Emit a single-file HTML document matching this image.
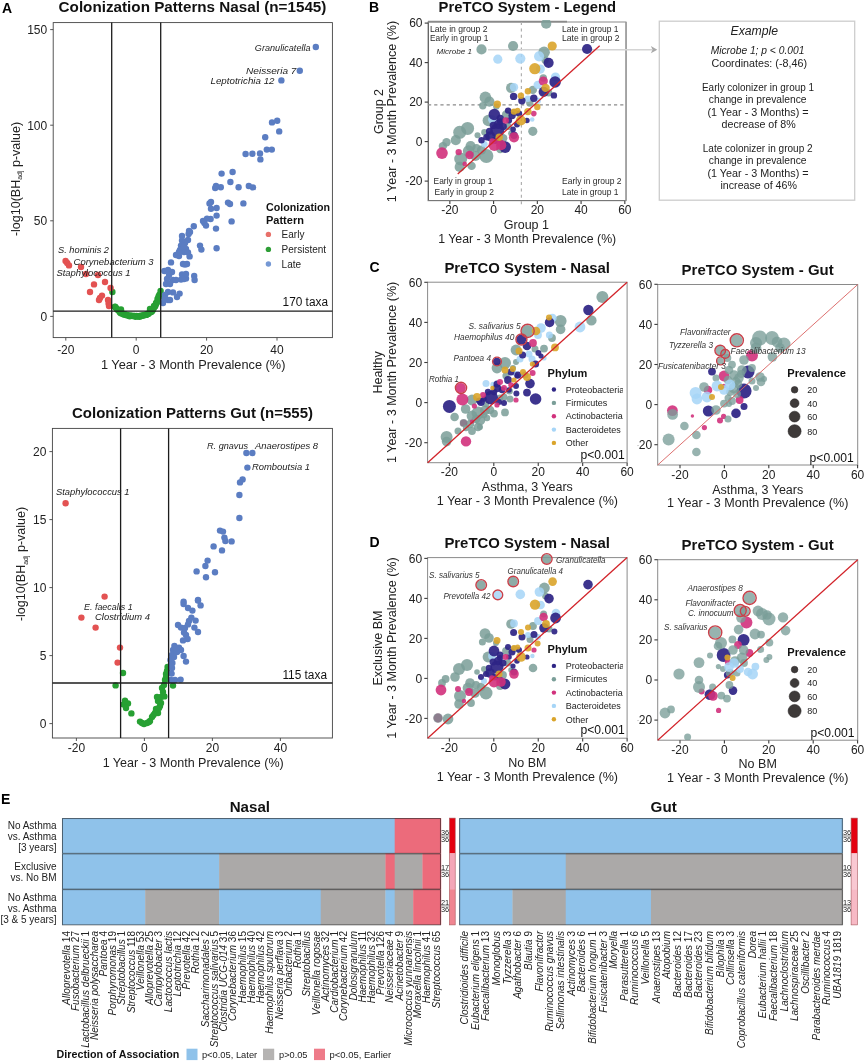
<!DOCTYPE html>
<html lang="en"><head><meta charset="utf-8"><title>Figure</title>
<style>
html,body{margin:0;padding:0;background:#fff;}
svg{display:block;font-family:"Liberation Sans", Arial, Helvetica, sans-serif;}
text{font-kerning:normal;}
</style></head><body>
<svg width="865" height="1062" viewBox="0 0 865 1062">
<rect x="0" y="0" width="865" height="1062" fill="#ffffff"/>
<defs>
<clipPath id="clipB"><rect x="428" y="20" width="198" height="181"/></clipPath>
<clipPath id="clipCN"><rect x="427.6" y="278" width="199.4" height="184.7"/></clipPath>
<clipPath id="clipCG"><rect x="657.4" y="280" width="200.2" height="185"/></clipPath>
<clipPath id="clipDN"><rect x="427.6" y="552" width="199.4" height="186.2"/></clipPath>
<clipPath id="clipDG"><rect x="657.4" y="555" width="200.2" height="185.2"/></clipPath>
<clipPath id="clipCNl"><rect x="540" y="360" width="83" height="100"/></clipPath>
<clipPath id="clipDNl"><rect x="540" y="636" width="83" height="100"/></clipPath>
</defs>
<text x="2.00" y="12.60" font-size="14" font-weight="bold" fill="#000">A</text>
<text x="58.60" y="12.30" font-size="14.8" font-weight="bold" textLength="267.80" lengthAdjust="spacingAndGlyphs" fill="#111">Colonization Patterns Nasal (n=1545)</text>
<rect x="53.20" y="22.60" width="279.20" height="315.00" fill="#fff" stroke="#444" stroke-width="0.9" />
<line x1="50.20" y1="316.40" x2="53.20" y2="316.40" stroke="#444" stroke-width="0.9" />
<text x="47.20" y="320.70" font-size="12" text-anchor="end" fill="#222">0</text>
<line x1="50.20" y1="220.80" x2="53.20" y2="220.80" stroke="#444" stroke-width="0.9" />
<text x="47.20" y="225.10" font-size="12" text-anchor="end" fill="#222">50</text>
<line x1="50.20" y1="125.20" x2="53.20" y2="125.20" stroke="#444" stroke-width="0.9" />
<text x="47.20" y="129.50" font-size="12" text-anchor="end" fill="#222">100</text>
<line x1="50.20" y1="29.60" x2="53.20" y2="29.60" stroke="#444" stroke-width="0.9" />
<text x="47.20" y="33.90" font-size="12" text-anchor="end" fill="#222">150</text>
<line x1="65.80" y1="337.60" x2="65.80" y2="340.60" stroke="#444" stroke-width="0.9" />
<text x="65.80" y="354.00" font-size="12" text-anchor="middle" fill="#222">-20</text>
<line x1="136.20" y1="337.60" x2="136.20" y2="340.60" stroke="#444" stroke-width="0.9" />
<text x="136.20" y="354.00" font-size="12" text-anchor="middle" fill="#222">0</text>
<line x1="206.60" y1="337.60" x2="206.60" y2="340.60" stroke="#444" stroke-width="0.9" />
<text x="206.60" y="354.00" font-size="12" text-anchor="middle" fill="#222">20</text>
<line x1="277.00" y1="337.60" x2="277.00" y2="340.60" stroke="#444" stroke-width="0.9" />
<text x="277.00" y="354.00" font-size="12" text-anchor="middle" fill="#222">40</text>
<text x="193.20" y="368.80" font-size="12.7" text-anchor="middle" textLength="184.50" lengthAdjust="spacingAndGlyphs" fill="#222">1 Year - 3 Month Prevalence (%)</text>
<text x="19.70" y="179.00" font-size="12.5" text-anchor="middle" transform="rotate(-90 19.70 179.00)" fill="#222">-log10(BH<tspan font-size="7" dy="2.5">adj</tspan><tspan dy="-2.5"> p-value)</tspan></text>
<circle cx="112.4" cy="292.0" r="3.2" fill="#27A033"/>
<circle cx="160.6" cy="291.0" r="3.2" fill="#27A033"/>
<circle cx="159.4" cy="294.6" r="3.2" fill="#27A033"/>
<circle cx="115.0" cy="306.6" r="3.2" fill="#27A033"/>
<circle cx="121.0" cy="309.4" r="3.2" fill="#27A033"/>
<circle cx="156.0" cy="303.0" r="3.2" fill="#27A033"/>
<circle cx="154.0" cy="306.0" r="3.2" fill="#27A033"/>
<circle cx="150.0" cy="309.0" r="3.2" fill="#27A033"/>
<circle cx="157.5" cy="299.0" r="3.2" fill="#27A033"/>
<circle cx="158.5" cy="296.5" r="3.2" fill="#27A033"/>
<circle cx="115.1" cy="306.9" r="3.2" fill="#27A033"/>
<circle cx="116.1" cy="307.9" r="3.2" fill="#27A033"/>
<circle cx="117.0" cy="309.3" r="3.2" fill="#27A033"/>
<circle cx="118.0" cy="310.1" r="3.2" fill="#27A033"/>
<circle cx="119.0" cy="311.0" r="3.2" fill="#27A033"/>
<circle cx="120.0" cy="312.5" r="3.2" fill="#27A033"/>
<circle cx="120.9" cy="313.3" r="3.2" fill="#27A033"/>
<circle cx="121.9" cy="313.0" r="3.2" fill="#27A033"/>
<circle cx="122.9" cy="314.1" r="3.2" fill="#27A033"/>
<circle cx="123.9" cy="314.6" r="3.2" fill="#27A033"/>
<circle cx="124.9" cy="314.1" r="3.2" fill="#27A033"/>
<circle cx="125.8" cy="315.1" r="3.2" fill="#27A033"/>
<circle cx="126.8" cy="314.9" r="3.2" fill="#27A033"/>
<circle cx="127.8" cy="315.5" r="3.2" fill="#27A033"/>
<circle cx="128.8" cy="315.5" r="3.2" fill="#27A033"/>
<circle cx="129.7" cy="316.2" r="3.2" fill="#27A033"/>
<circle cx="130.7" cy="315.8" r="3.2" fill="#27A033"/>
<circle cx="131.7" cy="315.6" r="3.2" fill="#27A033"/>
<circle cx="132.7" cy="316.1" r="3.2" fill="#27A033"/>
<circle cx="133.7" cy="315.9" r="3.2" fill="#27A033"/>
<circle cx="134.6" cy="316.0" r="3.2" fill="#27A033"/>
<circle cx="135.6" cy="316.7" r="3.2" fill="#27A033"/>
<circle cx="136.6" cy="315.9" r="3.2" fill="#27A033"/>
<circle cx="137.6" cy="316.1" r="3.2" fill="#27A033"/>
<circle cx="138.5" cy="316.4" r="3.2" fill="#27A033"/>
<circle cx="139.5" cy="316.7" r="3.2" fill="#27A033"/>
<circle cx="140.5" cy="315.6" r="3.2" fill="#27A033"/>
<circle cx="141.5" cy="316.0" r="3.2" fill="#27A033"/>
<circle cx="142.5" cy="315.6" r="3.2" fill="#27A033"/>
<circle cx="143.4" cy="315.2" r="3.2" fill="#27A033"/>
<circle cx="144.4" cy="315.2" r="3.2" fill="#27A033"/>
<circle cx="145.4" cy="314.7" r="3.2" fill="#27A033"/>
<circle cx="146.4" cy="314.9" r="3.2" fill="#27A033"/>
<circle cx="147.3" cy="314.0" r="3.2" fill="#27A033"/>
<circle cx="148.3" cy="313.9" r="3.2" fill="#27A033"/>
<circle cx="149.3" cy="312.7" r="3.2" fill="#27A033"/>
<circle cx="150.3" cy="312.0" r="3.2" fill="#27A033"/>
<circle cx="151.3" cy="312.0" r="3.2" fill="#27A033"/>
<circle cx="152.2" cy="310.9" r="3.2" fill="#27A033"/>
<circle cx="153.2" cy="309.6" r="3.2" fill="#27A033"/>
<circle cx="154.2" cy="307.3" r="3.2" fill="#27A033"/>
<circle cx="155.2" cy="306.2" r="3.2" fill="#27A033"/>
<circle cx="156.1" cy="304.1" r="3.2" fill="#27A033"/>
<circle cx="157.1" cy="302.3" r="3.2" fill="#27A033"/>
<circle cx="158.1" cy="299.6" r="3.2" fill="#27A033"/>
<circle cx="159.1" cy="296.9" r="3.2" fill="#27A033"/>
<circle cx="65.6" cy="261.0" r="3.2" fill="#E35252"/>
<circle cx="67.2" cy="263.0" r="3.2" fill="#E35252"/>
<circle cx="69.0" cy="265.4" r="3.2" fill="#E35252"/>
<circle cx="81.0" cy="267.0" r="3.2" fill="#E35252"/>
<circle cx="86.0" cy="274.0" r="3.2" fill="#E35252"/>
<circle cx="98.0" cy="275.0" r="3.2" fill="#E35252"/>
<circle cx="105.0" cy="282.0" r="3.2" fill="#E35252"/>
<circle cx="94.0" cy="284.4" r="3.2" fill="#E35252"/>
<circle cx="90.0" cy="292.0" r="3.2" fill="#E35252"/>
<circle cx="110.6" cy="288.0" r="3.2" fill="#E35252"/>
<circle cx="102.0" cy="295.6" r="3.2" fill="#E35252"/>
<circle cx="100.0" cy="298.0" r="3.2" fill="#E35252"/>
<circle cx="99.0" cy="300.0" r="3.2" fill="#E35252"/>
<circle cx="108.0" cy="300.0" r="3.2" fill="#E35252"/>
<circle cx="108.6" cy="303.6" r="3.2" fill="#E35252"/>
<circle cx="109.0" cy="306.0" r="3.2" fill="#E35252"/>
<circle cx="315.8" cy="47.0" r="3.2" fill="#5B7DC2"/>
<circle cx="299.8" cy="70.8" r="3.2" fill="#5B7DC2"/>
<circle cx="281.4" cy="80.4" r="3.2" fill="#5B7DC2"/>
<circle cx="277.2" cy="120.8" r="3.2" fill="#5B7DC2"/>
<circle cx="272.0" cy="122.4" r="3.2" fill="#5B7DC2"/>
<circle cx="279.2" cy="131.4" r="3.2" fill="#5B7DC2"/>
<circle cx="265.2" cy="137.2" r="3.2" fill="#5B7DC2"/>
<circle cx="271.8" cy="149.6" r="3.2" fill="#5B7DC2"/>
<circle cx="266.8" cy="149.6" r="3.2" fill="#5B7DC2"/>
<circle cx="260.0" cy="153.4" r="3.2" fill="#5B7DC2"/>
<circle cx="252.4" cy="153.8" r="3.2" fill="#5B7DC2"/>
<circle cx="245.6" cy="154.0" r="3.2" fill="#5B7DC2"/>
<circle cx="260.4" cy="159.4" r="3.2" fill="#5B7DC2"/>
<circle cx="232.6" cy="172.0" r="3.2" fill="#5B7DC2"/>
<circle cx="221.6" cy="173.6" r="3.2" fill="#5B7DC2"/>
<circle cx="230.4" cy="182.0" r="3.2" fill="#5B7DC2"/>
<circle cx="220.8" cy="187.2" r="3.2" fill="#5B7DC2"/>
<circle cx="215.2" cy="188.0" r="3.2" fill="#5B7DC2"/>
<circle cx="216.0" cy="186.0" r="3.2" fill="#5B7DC2"/>
<circle cx="238.6" cy="187.2" r="3.2" fill="#5B7DC2"/>
<circle cx="248.8" cy="186.0" r="3.2" fill="#5B7DC2"/>
<circle cx="253.0" cy="187.4" r="3.2" fill="#5B7DC2"/>
<circle cx="211.0" cy="202.0" r="3.2" fill="#5B7DC2"/>
<circle cx="209.5" cy="203.5" r="3.2" fill="#5B7DC2"/>
<circle cx="228.0" cy="202.6" r="3.2" fill="#5B7DC2"/>
<circle cx="230.0" cy="204.0" r="3.2" fill="#5B7DC2"/>
<circle cx="243.4" cy="203.4" r="3.2" fill="#5B7DC2"/>
<circle cx="216.6" cy="208.0" r="3.2" fill="#5B7DC2"/>
<circle cx="211.0" cy="208.8" r="3.2" fill="#5B7DC2"/>
<circle cx="216.6" cy="215.6" r="3.2" fill="#5B7DC2"/>
<circle cx="231.6" cy="221.4" r="3.2" fill="#5B7DC2"/>
<circle cx="210.6" cy="219.0" r="3.2" fill="#5B7DC2"/>
<circle cx="207.0" cy="218.6" r="3.2" fill="#5B7DC2"/>
<circle cx="203.0" cy="221.0" r="3.2" fill="#5B7DC2"/>
<circle cx="204.4" cy="223.0" r="3.2" fill="#5B7DC2"/>
<circle cx="206.0" cy="225.6" r="3.2" fill="#5B7DC2"/>
<circle cx="216.0" cy="228.6" r="3.2" fill="#5B7DC2"/>
<circle cx="193.8" cy="226.2" r="3.2" fill="#5B7DC2"/>
<circle cx="189.0" cy="231.0" r="3.2" fill="#5B7DC2"/>
<circle cx="188.6" cy="234.0" r="3.2" fill="#5B7DC2"/>
<circle cx="188.0" cy="240.0" r="3.2" fill="#5B7DC2"/>
<circle cx="182.0" cy="240.4" r="3.2" fill="#5B7DC2"/>
<circle cx="185.0" cy="243.0" r="3.2" fill="#5B7DC2"/>
<circle cx="181.0" cy="245.6" r="3.2" fill="#5B7DC2"/>
<circle cx="183.0" cy="248.0" r="3.2" fill="#5B7DC2"/>
<circle cx="186.0" cy="249.0" r="3.2" fill="#5B7DC2"/>
<circle cx="200.0" cy="245.6" r="3.2" fill="#5B7DC2"/>
<circle cx="201.4" cy="249.6" r="3.2" fill="#5B7DC2"/>
<circle cx="216.6" cy="248.2" r="3.2" fill="#5B7DC2"/>
<circle cx="180.0" cy="250.0" r="3.2" fill="#5B7DC2"/>
<circle cx="184.0" cy="252.0" r="3.2" fill="#5B7DC2"/>
<circle cx="188.0" cy="252.4" r="3.2" fill="#5B7DC2"/>
<circle cx="176.0" cy="255.0" r="3.2" fill="#5B7DC2"/>
<circle cx="179.0" cy="256.0" r="3.2" fill="#5B7DC2"/>
<circle cx="189.6" cy="256.4" r="3.2" fill="#5B7DC2"/>
<circle cx="171.0" cy="262.4" r="3.2" fill="#5B7DC2"/>
<circle cx="183.0" cy="264.0" r="3.2" fill="#5B7DC2"/>
<circle cx="187.0" cy="264.0" r="3.2" fill="#5B7DC2"/>
<circle cx="185.0" cy="264.5" r="3.2" fill="#5B7DC2"/>
<circle cx="172.0" cy="272.0" r="3.2" fill="#5B7DC2"/>
<circle cx="182.0" cy="274.4" r="3.2" fill="#5B7DC2"/>
<circle cx="194.2" cy="276.0" r="3.2" fill="#5B7DC2"/>
<circle cx="173.0" cy="280.0" r="3.2" fill="#5B7DC2"/>
<circle cx="181.0" cy="279.6" r="3.2" fill="#5B7DC2"/>
<circle cx="186.0" cy="278.4" r="3.2" fill="#5B7DC2"/>
<circle cx="194.6" cy="280.0" r="3.2" fill="#5B7DC2"/>
<circle cx="184.0" cy="279.0" r="3.2" fill="#5B7DC2"/>
<circle cx="173.0" cy="292.4" r="3.2" fill="#5B7DC2"/>
<circle cx="179.6" cy="293.6" r="3.2" fill="#5B7DC2"/>
<circle cx="177.0" cy="297.0" r="3.2" fill="#5B7DC2"/>
<circle cx="170.0" cy="300.0" r="3.2" fill="#5B7DC2"/>
<circle cx="164.4" cy="271.0" r="3.2" fill="#5B7DC2"/>
<circle cx="168.0" cy="270.0" r="3.2" fill="#5B7DC2"/>
<circle cx="169.0" cy="275.0" r="3.2" fill="#5B7DC2"/>
<circle cx="167.0" cy="279.0" r="3.2" fill="#5B7DC2"/>
<circle cx="168.0" cy="292.0" r="3.2" fill="#5B7DC2"/>
<circle cx="165.0" cy="295.0" r="3.2" fill="#5B7DC2"/>
<circle cx="163.0" cy="303.0" r="3.2" fill="#5B7DC2"/>
<circle cx="168.0" cy="300.0" r="3.2" fill="#5B7DC2"/>
<circle cx="186.0" cy="274.0" r="3.2" fill="#5B7DC2"/>
<circle cx="190.0" cy="232.0" r="3.2" fill="#5B7DC2"/>
<circle cx="182.0" cy="236.0" r="3.2" fill="#5B7DC2"/>
<circle cx="184.0" cy="246.0" r="3.2" fill="#5B7DC2"/>
<circle cx="179.0" cy="252.0" r="3.2" fill="#5B7DC2"/>
<circle cx="166.0" cy="284.0" r="3.2" fill="#5B7DC2"/>
<circle cx="170.0" cy="284.0" r="3.2" fill="#5B7DC2"/>
<circle cx="176.0" cy="280.0" r="3.2" fill="#5B7DC2"/>
<circle cx="164.5" cy="299.0" r="3.2" fill="#5B7DC2"/>
<line x1="111.70" y1="22.60" x2="111.70" y2="337.60" stroke="#1c1c1c" stroke-width="1.3" />
<line x1="160.70" y1="22.60" x2="160.70" y2="337.60" stroke="#1c1c1c" stroke-width="1.3" />
<line x1="53.20" y1="311.20" x2="332.40" y2="311.20" stroke="#1c1c1c" stroke-width="1.3" />
<text x="254.80" y="51.00" font-size="9" font-style="italic" textLength="55.80" lengthAdjust="spacingAndGlyphs" fill="#222">Granulicatella</text>
<text x="246.00" y="74.00" font-size="9" font-style="italic" textLength="50.50" lengthAdjust="spacingAndGlyphs" fill="#222">Neisseria  7</text>
<text x="210.50" y="83.60" font-size="9" font-style="italic" textLength="64.00" lengthAdjust="spacingAndGlyphs" fill="#222">Leptotrichia  12</text>
<text x="58.00" y="253.00" font-size="9" font-style="italic" textLength="51.00" lengthAdjust="spacingAndGlyphs" fill="#222">S. hominis 2</text>
<text x="73.60" y="265.00" font-size="9" font-style="italic" textLength="80.00" lengthAdjust="spacingAndGlyphs" fill="#222">Corynebacterium  3</text>
<text x="56.40" y="276.00" font-size="9" font-style="italic" textLength="74.20" lengthAdjust="spacingAndGlyphs" fill="#222">Staphylococcus  1</text>
<text x="282.60" y="306.00" font-size="12" textLength="45.40" lengthAdjust="spacingAndGlyphs" fill="#111">170 taxa</text>
<text x="266.00" y="210.60" font-size="11" font-weight="bold" textLength="64.00" lengthAdjust="spacingAndGlyphs" fill="#111">Colonization</text>
<text x="266.00" y="224.20" font-size="11" font-weight="bold" fill="#111">Pattern</text>
<circle cx="268.4" cy="234.4" r="2.7" fill="#E8706A"/>
<text x="281.60" y="238.00" font-size="10" fill="#222">Early</text>
<circle cx="268.4" cy="249.4" r="2.7" fill="#2E9E36"/>
<text x="281.60" y="253.00" font-size="10" fill="#222">Persistent</text>
<circle cx="268.4" cy="264.0" r="2.7" fill="#7598D4"/>
<text x="281.60" y="267.60" font-size="10" fill="#222">Late</text>
<text x="72.00" y="418.00" font-size="14.8" font-weight="bold" textLength="241.00" lengthAdjust="spacingAndGlyphs" fill="#111">Colonization Patterns Gut (n=555)</text>
<rect x="52.40" y="428.40" width="280.00" height="309.60" fill="#fff" stroke="#444" stroke-width="0.9" />
<line x1="49.40" y1="723.60" x2="52.40" y2="723.60" stroke="#444" stroke-width="0.9" />
<text x="46.40" y="727.90" font-size="12" text-anchor="end" fill="#222">0</text>
<line x1="49.40" y1="655.60" x2="52.40" y2="655.60" stroke="#444" stroke-width="0.9" />
<text x="46.40" y="659.90" font-size="12" text-anchor="end" fill="#222">5</text>
<line x1="49.40" y1="587.60" x2="52.40" y2="587.60" stroke="#444" stroke-width="0.9" />
<text x="46.40" y="591.90" font-size="12" text-anchor="end" fill="#222">10</text>
<line x1="49.40" y1="519.60" x2="52.40" y2="519.60" stroke="#444" stroke-width="0.9" />
<text x="46.40" y="523.90" font-size="12" text-anchor="end" fill="#222">15</text>
<line x1="49.40" y1="451.60" x2="52.40" y2="451.60" stroke="#444" stroke-width="0.9" />
<text x="46.40" y="455.90" font-size="12" text-anchor="end" fill="#222">20</text>
<line x1="76.40" y1="738.00" x2="76.40" y2="741.00" stroke="#444" stroke-width="0.9" />
<text x="76.40" y="752.40" font-size="12" text-anchor="middle" fill="#222">-20</text>
<line x1="144.40" y1="738.00" x2="144.40" y2="741.00" stroke="#444" stroke-width="0.9" />
<text x="144.40" y="752.40" font-size="12" text-anchor="middle" fill="#222">0</text>
<line x1="212.40" y1="738.00" x2="212.40" y2="741.00" stroke="#444" stroke-width="0.9" />
<text x="212.40" y="752.40" font-size="12" text-anchor="middle" fill="#222">20</text>
<line x1="280.40" y1="738.00" x2="280.40" y2="741.00" stroke="#444" stroke-width="0.9" />
<text x="280.40" y="752.40" font-size="12" text-anchor="middle" fill="#222">40</text>
<text x="193.20" y="767.40" font-size="12.5" text-anchor="middle" textLength="181.10" lengthAdjust="spacingAndGlyphs" fill="#222">1 Year - 3 Month Prevalence (%)</text>
<text x="25.40" y="564.00" font-size="12.5" text-anchor="middle" transform="rotate(-90 25.40 564.00)" fill="#222">-log10(BH<tspan font-size="7" dy="2.5">adj</tspan><tspan dy="-2.5"> p-value)</tspan></text>
<circle cx="123.0" cy="673.0" r="3.2" fill="#27A033"/>
<circle cx="115.6" cy="685.4" r="3.2" fill="#27A033"/>
<circle cx="125.0" cy="700.6" r="3.2" fill="#27A033"/>
<circle cx="128.0" cy="703.4" r="3.2" fill="#27A033"/>
<circle cx="123.6" cy="704.4" r="3.2" fill="#27A033"/>
<circle cx="126.0" cy="708.0" r="3.2" fill="#27A033"/>
<circle cx="131.4" cy="713.4" r="3.2" fill="#27A033"/>
<circle cx="140.0" cy="721.6" r="3.2" fill="#27A033"/>
<circle cx="142.0" cy="723.0" r="3.2" fill="#27A033"/>
<circle cx="144.0" cy="724.0" r="3.2" fill="#27A033"/>
<circle cx="147.0" cy="723.0" r="3.2" fill="#27A033"/>
<circle cx="150.0" cy="721.0" r="3.2" fill="#27A033"/>
<circle cx="152.0" cy="717.0" r="3.2" fill="#27A033"/>
<circle cx="155.0" cy="713.0" r="3.2" fill="#27A033"/>
<circle cx="158.0" cy="713.0" r="3.2" fill="#27A033"/>
<circle cx="156.0" cy="709.0" r="3.2" fill="#27A033"/>
<circle cx="160.0" cy="706.0" r="3.2" fill="#27A033"/>
<circle cx="161.0" cy="703.0" r="3.2" fill="#27A033"/>
<circle cx="158.0" cy="701.0" r="3.2" fill="#27A033"/>
<circle cx="157.0" cy="697.0" r="3.2" fill="#27A033"/>
<circle cx="161.0" cy="697.0" r="3.2" fill="#27A033"/>
<circle cx="164.4" cy="696.4" r="3.2" fill="#27A033"/>
<circle cx="162.0" cy="688.0" r="3.2" fill="#27A033"/>
<circle cx="164.0" cy="685.0" r="3.2" fill="#27A033"/>
<circle cx="165.0" cy="680.0" r="3.2" fill="#27A033"/>
<circle cx="166.0" cy="674.0" r="3.2" fill="#27A033"/>
<circle cx="167.6" cy="667.0" r="3.2" fill="#27A033"/>
<circle cx="173.0" cy="685.6" r="3.2" fill="#27A033"/>
<circle cx="163.0" cy="692.0" r="3.2" fill="#27A033"/>
<circle cx="153.5" cy="715.0" r="3.2" fill="#27A033"/>
<circle cx="149.0" cy="722.0" r="3.2" fill="#27A033"/>
<circle cx="159.0" cy="708.0" r="3.2" fill="#27A033"/>
<circle cx="166.0" cy="677.5" r="3.2" fill="#27A033"/>
<circle cx="167.0" cy="671.0" r="3.2" fill="#27A033"/>
<circle cx="65.6" cy="503.2" r="3.2" fill="#E35252"/>
<circle cx="104.6" cy="596.6" r="3.2" fill="#E35252"/>
<circle cx="81.4" cy="617.6" r="3.2" fill="#E35252"/>
<circle cx="95.6" cy="627.6" r="3.2" fill="#E35252"/>
<circle cx="120.0" cy="647.6" r="3.2" fill="#E35252"/>
<circle cx="117.6" cy="662.6" r="3.2" fill="#E35252"/>
<circle cx="183.6" cy="604.0" r="3.2" fill="#5B7DC2"/>
<circle cx="198.0" cy="600.6" r="3.2" fill="#5B7DC2"/>
<circle cx="200.6" cy="605.4" r="3.2" fill="#5B7DC2"/>
<circle cx="188.0" cy="608.0" r="3.2" fill="#5B7DC2"/>
<circle cx="192.4" cy="610.6" r="3.2" fill="#5B7DC2"/>
<circle cx="191.4" cy="617.6" r="3.2" fill="#5B7DC2"/>
<circle cx="195.6" cy="620.6" r="3.2" fill="#5B7DC2"/>
<circle cx="189.0" cy="621.0" r="3.2" fill="#5B7DC2"/>
<circle cx="178.0" cy="625.0" r="3.2" fill="#5B7DC2"/>
<circle cx="181.0" cy="627.6" r="3.2" fill="#5B7DC2"/>
<circle cx="185.0" cy="628.0" r="3.2" fill="#5B7DC2"/>
<circle cx="188.0" cy="624.4" r="3.2" fill="#5B7DC2"/>
<circle cx="194.4" cy="627.6" r="3.2" fill="#5B7DC2"/>
<circle cx="198.0" cy="632.0" r="3.2" fill="#5B7DC2"/>
<circle cx="184.0" cy="632.4" r="3.2" fill="#5B7DC2"/>
<circle cx="186.0" cy="635.0" r="3.2" fill="#5B7DC2"/>
<circle cx="187.6" cy="639.0" r="3.2" fill="#5B7DC2"/>
<circle cx="183.0" cy="640.4" r="3.2" fill="#5B7DC2"/>
<circle cx="174.4" cy="646.0" r="3.2" fill="#5B7DC2"/>
<circle cx="179.0" cy="647.6" r="3.2" fill="#5B7DC2"/>
<circle cx="181.0" cy="650.0" r="3.2" fill="#5B7DC2"/>
<circle cx="173.0" cy="650.0" r="3.2" fill="#5B7DC2"/>
<circle cx="177.0" cy="652.0" r="3.2" fill="#5B7DC2"/>
<circle cx="172.0" cy="655.0" r="3.2" fill="#5B7DC2"/>
<circle cx="183.6" cy="656.0" r="3.2" fill="#5B7DC2"/>
<circle cx="186.0" cy="661.6" r="3.2" fill="#5B7DC2"/>
<circle cx="172.4" cy="663.0" r="3.2" fill="#5B7DC2"/>
<circle cx="172.0" cy="668.0" r="3.2" fill="#5B7DC2"/>
<circle cx="171.6" cy="673.6" r="3.2" fill="#5B7DC2"/>
<circle cx="175.0" cy="680.0" r="3.2" fill="#5B7DC2"/>
<circle cx="180.6" cy="679.6" r="3.2" fill="#5B7DC2"/>
<circle cx="171.0" cy="680.0" r="3.2" fill="#5B7DC2"/>
<circle cx="246.4" cy="453.0" r="3.2" fill="#5B7DC2"/>
<circle cx="252.4" cy="453.0" r="3.2" fill="#5B7DC2"/>
<circle cx="247.4" cy="467.6" r="3.2" fill="#5B7DC2"/>
<circle cx="242.6" cy="479.4" r="3.2" fill="#5B7DC2"/>
<circle cx="240.0" cy="482.4" r="3.2" fill="#5B7DC2"/>
<circle cx="239.4" cy="495.0" r="3.2" fill="#5B7DC2"/>
<circle cx="239.4" cy="518.0" r="3.2" fill="#5B7DC2"/>
<circle cx="220.0" cy="530.6" r="3.2" fill="#5B7DC2"/>
<circle cx="223.0" cy="531.6" r="3.2" fill="#5B7DC2"/>
<circle cx="224.4" cy="537.6" r="3.2" fill="#5B7DC2"/>
<circle cx="225.4" cy="541.0" r="3.2" fill="#5B7DC2"/>
<circle cx="231.6" cy="541.4" r="3.2" fill="#5B7DC2"/>
<circle cx="213.6" cy="546.4" r="3.2" fill="#5B7DC2"/>
<circle cx="222.0" cy="550.4" r="3.2" fill="#5B7DC2"/>
<circle cx="207.6" cy="560.6" r="3.2" fill="#5B7DC2"/>
<circle cx="205.4" cy="566.0" r="3.2" fill="#5B7DC2"/>
<circle cx="196.6" cy="571.4" r="3.2" fill="#5B7DC2"/>
<circle cx="215.0" cy="572.2" r="3.2" fill="#5B7DC2"/>
<circle cx="206.0" cy="577.2" r="3.2" fill="#5B7DC2"/>
<circle cx="198.0" cy="600.0" r="3.2" fill="#5B7DC2"/>
<circle cx="183.6" cy="601.6" r="3.2" fill="#5B7DC2"/>
<circle cx="170.5" cy="660.0" r="3.2" fill="#5B7DC2"/>
<circle cx="176.0" cy="648.0" r="3.2" fill="#5B7DC2"/>
<circle cx="171.0" cy="665.0" r="3.2" fill="#5B7DC2"/>
<circle cx="174.0" cy="657.0" r="3.2" fill="#5B7DC2"/>
<line x1="120.60" y1="428.40" x2="120.60" y2="738.00" stroke="#1c1c1c" stroke-width="1.3" />
<line x1="168.60" y1="428.40" x2="168.60" y2="738.00" stroke="#1c1c1c" stroke-width="1.3" />
<line x1="52.40" y1="683.00" x2="332.40" y2="683.00" stroke="#1c1c1c" stroke-width="1.3" />
<text x="56.00" y="495.40" font-size="9" font-style="italic" textLength="73.60" lengthAdjust="spacingAndGlyphs" fill="#222">Staphylococcus  1</text>
<text x="84.00" y="610.00" font-size="9" font-style="italic" textLength="48.60" lengthAdjust="spacingAndGlyphs" fill="#222">E. faecalis 1</text>
<text x="95.00" y="619.60" font-size="9" font-style="italic" textLength="55.00" lengthAdjust="spacingAndGlyphs" fill="#222">Clostridium  4</text>
<text x="207.00" y="449.40" font-size="9" font-style="italic" textLength="41.00" lengthAdjust="spacingAndGlyphs" fill="#222">R. gnavus</text>
<text x="255.00" y="449.40" font-size="9" font-style="italic" textLength="63.00" lengthAdjust="spacingAndGlyphs" fill="#222">Anaerostipes  8</text>
<text x="252.00" y="470.40" font-size="9" font-style="italic" textLength="58.00" lengthAdjust="spacingAndGlyphs" fill="#222">Romboutsia  1</text>
<text x="282.40" y="679.00" font-size="12" textLength="44.60" lengthAdjust="spacingAndGlyphs" fill="#111">115 taxa</text>
<text x="369.00" y="12.40" font-size="14" font-weight="bold" fill="#000">B</text>
<text x="438.60" y="12.40" font-size="14.8" font-weight="bold" textLength="177.40" lengthAdjust="spacingAndGlyphs" fill="#111">PreTCO System - Legend</text>
<rect x="428.00" y="22.00" width="198.00" height="178.70" fill="#fff" stroke="#8a8a8a" stroke-width="1" />
<line x1="424.70" y1="181.10" x2="428.00" y2="181.10" stroke="#3a3a3a" stroke-width="1.1" />
<text x="422.50" y="185.40" font-size="12" text-anchor="end" fill="#222">-20</text>
<line x1="449.86" y1="200.70" x2="449.86" y2="204.00" stroke="#3a3a3a" stroke-width="1.1" />
<text x="449.86" y="214.00" font-size="12" text-anchor="middle" fill="#222">-20</text>
<line x1="424.70" y1="141.60" x2="428.00" y2="141.60" stroke="#3a3a3a" stroke-width="1.1" />
<text x="422.50" y="145.90" font-size="12" text-anchor="end" fill="#222">0</text>
<line x1="493.60" y1="200.70" x2="493.60" y2="204.00" stroke="#3a3a3a" stroke-width="1.1" />
<text x="493.60" y="214.00" font-size="12" text-anchor="middle" fill="#222">0</text>
<line x1="424.70" y1="102.10" x2="428.00" y2="102.10" stroke="#3a3a3a" stroke-width="1.1" />
<text x="422.50" y="106.40" font-size="12" text-anchor="end" fill="#222">20</text>
<line x1="537.34" y1="200.70" x2="537.34" y2="204.00" stroke="#3a3a3a" stroke-width="1.1" />
<text x="537.34" y="214.00" font-size="12" text-anchor="middle" fill="#222">20</text>
<line x1="424.70" y1="62.60" x2="428.00" y2="62.60" stroke="#3a3a3a" stroke-width="1.1" />
<text x="422.50" y="66.90" font-size="12" text-anchor="end" fill="#222">40</text>
<line x1="581.08" y1="200.70" x2="581.08" y2="204.00" stroke="#3a3a3a" stroke-width="1.1" />
<text x="581.08" y="214.00" font-size="12" text-anchor="middle" fill="#222">40</text>
<line x1="424.70" y1="23.10" x2="428.00" y2="23.10" stroke="#3a3a3a" stroke-width="1.1" />
<text x="422.50" y="27.40" font-size="12" text-anchor="end" fill="#222">60</text>
<line x1="624.82" y1="200.70" x2="624.82" y2="204.00" stroke="#3a3a3a" stroke-width="1.1" />
<text x="624.82" y="214.00" font-size="12" text-anchor="middle" fill="#222">60</text>
<line x1="428.50" y1="22.00" x2="428.50" y2="200.70" stroke="#666" stroke-width="1.0" />
<line x1="428.00" y1="200.50" x2="626.00" y2="200.50" stroke="#777" stroke-width="1.0" />
<line x1="626.10" y1="22.00" x2="626.10" y2="200.70" stroke="#9c9c9c" stroke-width="1.5" />
<line x1="428.00" y1="21.70" x2="567.00" y2="21.70" stroke="#8a8a8a" stroke-width="1.8" />
<text x="383.00" y="111.50" font-size="12.5" text-anchor="middle" transform="rotate(-90 383.00 111.50)" fill="#222">Group 2</text>
<text x="395.70" y="111.50" font-size="12.5" text-anchor="middle" textLength="181.30" lengthAdjust="spacingAndGlyphs" transform="rotate(-90 395.70 111.50)" fill="#222">1 Year - 3 Month Prevalence (%)</text>
<text x="526.40" y="229.20" font-size="12.5" text-anchor="middle" fill="#222">Group 1</text>
<text x="527.20" y="242.70" font-size="12.3" text-anchor="middle" textLength="178.00" lengthAdjust="spacingAndGlyphs" fill="#222">1 Year - 3 Month Prevalence (%)</text>
<line x1="428.00" y1="104.80" x2="626.00" y2="104.80" stroke="#8a8a8a" stroke-width="1.3" stroke-dasharray="3.2 3"/>
<line x1="521.40" y1="22.00" x2="521.40" y2="204.50" stroke="#b0b0b0" stroke-width="1.2" stroke-dasharray="3 3.4"/>
<line x1="488.00" y1="49.70" x2="652.00" y2="49.70" stroke="#d4d4d4" stroke-width="1.4" />
<path d="M657.3 49.7 L650.9 46.1 L652.5 49.7 L650.9 53.3 Z" fill="#a9a9a9"/>
<g clip-path="url(#clipB)">
<circle cx="486.4" cy="156.0" r="7.0" fill="#7A9E98" fill-opacity="0.85"/>
<circle cx="467.6" cy="128.4" r="6.5" fill="#7A9E98" fill-opacity="0.85"/>
<circle cx="459.7" cy="132.3" r="6.5" fill="#7A9E98" fill-opacity="0.85"/>
<circle cx="460.7" cy="159.0" r="6.5" fill="#7A9E98" fill-opacity="0.85"/>
<circle cx="485.4" cy="97.4" r="5.8" fill="#7A9E98" fill-opacity="0.85"/>
<circle cx="488.4" cy="120.5" r="5.8" fill="#7A9E98" fill-opacity="0.85"/>
<circle cx="468.6" cy="151.1" r="5.8" fill="#7A9E98" fill-opacity="0.85"/>
<circle cx="544.1" cy="52.3" r="5.8" fill="#7A9E98" fill-opacity="0.85"/>
<circle cx="481.5" cy="49.4" r="5.1" fill="#7A9E98" fill-opacity="0.85"/>
<circle cx="513.1" cy="46.0" r="5.1" fill="#7A9E98" fill-opacity="0.85"/>
<circle cx="546.2" cy="23.7" r="5.1" fill="#7A9E98" fill-opacity="0.85"/>
<circle cx="511.1" cy="87.9" r="5.1" fill="#7A9E98" fill-opacity="0.85"/>
<circle cx="489.4" cy="101.7" r="5.1" fill="#7A9E98" fill-opacity="0.85"/>
<circle cx="455.8" cy="140.2" r="5.1" fill="#7A9E98" fill-opacity="0.85"/>
<circle cx="470.6" cy="146.1" r="5.1" fill="#7A9E98" fill-opacity="0.85"/>
<circle cx="475.5" cy="156.0" r="5.1" fill="#7A9E98" fill-opacity="0.85"/>
<circle cx="459.7" cy="166.9" r="5.1" fill="#7A9E98" fill-opacity="0.85"/>
<circle cx="481.5" cy="150.1" r="4.6" fill="#7A9E98" fill-opacity="0.85"/>
<circle cx="532.8" cy="131.3" r="4.6" fill="#7A9E98" fill-opacity="0.85"/>
<circle cx="506.1" cy="114.5" r="4.2" fill="#7A9E98" fill-opacity="0.85"/>
<circle cx="446.5" cy="142.2" r="4.2" fill="#7A9E98" fill-opacity="0.85"/>
<circle cx="442.9" cy="146.1" r="4.2" fill="#7A9E98" fill-opacity="0.85"/>
<circle cx="476.5" cy="148.1" r="4.2" fill="#7A9E98" fill-opacity="0.85"/>
<circle cx="471.6" cy="165.9" r="4.2" fill="#7A9E98" fill-opacity="0.85"/>
<circle cx="500.2" cy="149.1" r="4.2" fill="#7A9E98" fill-opacity="0.85"/>
<circle cx="503.2" cy="138.2" r="4.2" fill="#7A9E98" fill-opacity="0.85"/>
<circle cx="532.8" cy="89.9" r="4.2" fill="#7A9E98" fill-opacity="0.85"/>
<circle cx="482.8" cy="105.7" r="3.7" fill="#7A9E98" fill-opacity="0.85"/>
<circle cx="514.0" cy="112.6" r="3.7" fill="#7A9E98" fill-opacity="0.85"/>
<circle cx="508.1" cy="126.4" r="3.7" fill="#7A9E98" fill-opacity="0.85"/>
<circle cx="545.2" cy="60.2" r="3.7" fill="#7A9E98" fill-opacity="0.85"/>
<circle cx="543.3" cy="78.0" r="3.7" fill="#7A9E98" fill-opacity="0.85"/>
<circle cx="548.6" cy="92.8" r="3.7" fill="#7A9E98" fill-opacity="0.85"/>
<circle cx="529.8" cy="103.1" r="3.7" fill="#7A9E98" fill-opacity="0.85"/>
<circle cx="496.3" cy="106.6" r="3.2" fill="#7A9E98" fill-opacity="0.85"/>
<circle cx="484.4" cy="132.3" r="3.2" fill="#7A9E98" fill-opacity="0.85"/>
<circle cx="511.1" cy="133.3" r="3.0" fill="#7A9E98" fill-opacity="0.85"/>
<circle cx="477.5" cy="135.3" r="3.0" fill="#7A9E98" fill-opacity="0.85"/>
<circle cx="520.3" cy="58.6" r="5.1" fill="#A6D5F7" fill-opacity="0.85"/>
<circle cx="539.1" cy="56.3" r="5.1" fill="#A6D5F7" fill-opacity="0.85"/>
<circle cx="497.8" cy="59.2" r="4.6" fill="#A6D5F7" fill-opacity="0.85"/>
<circle cx="540.3" cy="69.1" r="4.6" fill="#A6D5F7" fill-opacity="0.85"/>
<circle cx="555.5" cy="77.0" r="4.6" fill="#A6D5F7" fill-opacity="0.85"/>
<circle cx="514.0" cy="87.3" r="4.2" fill="#A6D5F7" fill-opacity="0.85"/>
<circle cx="492.3" cy="119.5" r="4.2" fill="#A6D5F7" fill-opacity="0.85"/>
<circle cx="537.7" cy="84.9" r="4.2" fill="#A6D5F7" fill-opacity="0.85"/>
<circle cx="484.4" cy="144.2" r="3.2" fill="#A6D5F7" fill-opacity="0.85"/>
<circle cx="527.9" cy="98.7" r="3.2" fill="#A6D5F7" fill-opacity="0.85"/>
<circle cx="537.7" cy="100.7" r="3.2" fill="#A6D5F7" fill-opacity="0.85"/>
<circle cx="532.2" cy="119.5" r="2.3" fill="#A6D5F7" fill-opacity="0.85"/>
<circle cx="497.3" cy="130.3" r="7.0" fill="#2E2585" fill-opacity="0.93"/>
<circle cx="494.3" cy="114.5" r="5.8" fill="#2E2585" fill-opacity="0.93"/>
<circle cx="505.2" cy="147.1" r="5.8" fill="#2E2585" fill-opacity="0.93"/>
<circle cx="555.1" cy="82.0" r="5.8" fill="#2E2585" fill-opacity="0.93"/>
<circle cx="490.3" cy="136.3" r="5.1" fill="#2E2585" fill-opacity="0.93"/>
<circle cx="548.6" cy="62.8" r="5.1" fill="#2E2585" fill-opacity="0.93"/>
<circle cx="587.1" cy="49.0" r="5.1" fill="#2E2585" fill-opacity="0.93"/>
<circle cx="543.7" cy="91.8" r="5.1" fill="#2E2585" fill-opacity="0.93"/>
<circle cx="498.2" cy="124.4" r="4.6" fill="#2E2585" fill-opacity="0.93"/>
<circle cx="513.6" cy="96.4" r="3.7" fill="#2E2585" fill-opacity="0.93"/>
<circle cx="521.9" cy="100.7" r="3.7" fill="#2E2585" fill-opacity="0.93"/>
<circle cx="500.2" cy="118.5" r="3.7" fill="#2E2585" fill-opacity="0.93"/>
<circle cx="512.1" cy="115.5" r="3.7" fill="#2E2585" fill-opacity="0.93"/>
<circle cx="503.2" cy="126.4" r="3.7" fill="#2E2585" fill-opacity="0.93"/>
<circle cx="514.0" cy="135.3" r="3.7" fill="#2E2585" fill-opacity="0.93"/>
<circle cx="533.8" cy="98.3" r="3.7" fill="#2E2585" fill-opacity="0.93"/>
<circle cx="493.3" cy="125.4" r="3.7" fill="#2E2585" fill-opacity="0.93"/>
<circle cx="495.3" cy="140.2" r="3.7" fill="#2E2585" fill-opacity="0.93"/>
<circle cx="489.4" cy="131.3" r="3.5" fill="#2E2585" fill-opacity="0.93"/>
<circle cx="500.2" cy="143.2" r="3.5" fill="#2E2585" fill-opacity="0.93"/>
<circle cx="508.1" cy="110.6" r="3.2" fill="#2E2585" fill-opacity="0.93"/>
<circle cx="519.0" cy="113.6" r="3.2" fill="#2E2585" fill-opacity="0.93"/>
<circle cx="481.5" cy="140.2" r="3.2" fill="#2E2585" fill-opacity="0.93"/>
<circle cx="486.4" cy="137.3" r="3.2" fill="#2E2585" fill-opacity="0.93"/>
<circle cx="553.9" cy="95.4" r="3.2" fill="#2E2585" fill-opacity="0.93"/>
<circle cx="500.2" cy="121.5" r="3.2" fill="#2E2585" fill-opacity="0.93"/>
<circle cx="509.1" cy="120.5" r="3.0" fill="#2E2585" fill-opacity="0.93"/>
<circle cx="517.0" cy="124.4" r="3.0" fill="#2E2585" fill-opacity="0.93"/>
<circle cx="513.1" cy="129.4" r="2.8" fill="#2E2585" fill-opacity="0.93"/>
<circle cx="526.9" cy="120.5" r="2.8" fill="#2E2585" fill-opacity="0.93"/>
<circle cx="442.0" cy="153.1" r="5.8" fill="#D1317C" fill-opacity="0.9"/>
<circle cx="494.3" cy="145.2" r="5.8" fill="#D1317C" fill-opacity="0.9"/>
<circle cx="501.2" cy="145.2" r="5.1" fill="#D1317C" fill-opacity="0.9"/>
<circle cx="514.0" cy="137.3" r="5.1" fill="#D1317C" fill-opacity="0.9"/>
<circle cx="543.3" cy="81.0" r="4.6" fill="#D1317C" fill-opacity="0.9"/>
<circle cx="469.6" cy="155.0" r="4.2" fill="#D1317C" fill-opacity="0.9"/>
<circle cx="505.7" cy="120.5" r="3.2" fill="#D1317C" fill-opacity="0.9"/>
<circle cx="458.7" cy="152.1" r="3.2" fill="#D1317C" fill-opacity="0.9"/>
<circle cx="492.3" cy="141.2" r="3.0" fill="#D1317C" fill-opacity="0.9"/>
<circle cx="533.8" cy="113.6" r="2.8" fill="#D1317C" fill-opacity="0.9"/>
<circle cx="464.7" cy="163.9" r="2.3" fill="#D1317C" fill-opacity="0.9"/>
<circle cx="534.8" cy="68.7" r="5.6" fill="#DAA42A" fill-opacity="0.9"/>
<circle cx="520.9" cy="120.5" r="5.1" fill="#DAA42A" fill-opacity="0.9"/>
<circle cx="552.2" cy="46.0" r="4.6" fill="#DAA42A" fill-opacity="0.9"/>
<circle cx="545.6" cy="87.9" r="4.2" fill="#DAA42A" fill-opacity="0.9"/>
<circle cx="497.3" cy="104.3" r="3.7" fill="#DAA42A" fill-opacity="0.9"/>
<circle cx="499.2" cy="137.3" r="3.7" fill="#DAA42A" fill-opacity="0.9"/>
<circle cx="527.9" cy="111.6" r="3.7" fill="#DAA42A" fill-opacity="0.9"/>
<circle cx="520.9" cy="95.8" r="3.2" fill="#DAA42A" fill-opacity="0.9"/>
<circle cx="514.0" cy="111.6" r="3.2" fill="#DAA42A" fill-opacity="0.9"/>
<circle cx="527.9" cy="91.2" r="3.2" fill="#DAA42A" fill-opacity="0.9"/>
<circle cx="537.3" cy="107.0" r="3.2" fill="#DAA42A" fill-opacity="0.9"/>
<circle cx="517.6" cy="110.6" r="2.8" fill="#DAA42A" fill-opacity="0.9"/>
</g>
<line x1="457.73" y1="173.99" x2="599.67" y2="45.81" stroke="#D2232A" stroke-width="1.3" />
<text x="430.00" y="32.00" font-size="8.4" textLength="57.60" lengthAdjust="spacingAndGlyphs" fill="#2a2a2a">Late in group 2</text>
<text x="430.00" y="41.00" font-size="8.4" textLength="58.40" lengthAdjust="spacingAndGlyphs" fill="#2a2a2a">Early in group 1</text>
<text x="562.00" y="32.00" font-size="8.4" textLength="56.40" lengthAdjust="spacingAndGlyphs" fill="#2a2a2a">Late in group 1</text>
<text x="562.00" y="41.00" font-size="8.4" textLength="57.60" lengthAdjust="spacingAndGlyphs" fill="#2a2a2a">Late in group 2</text>
<text x="433.60" y="184.00" font-size="8.4" textLength="58.80" lengthAdjust="spacingAndGlyphs" fill="#2a2a2a">Early in group 1</text>
<text x="434.60" y="195.00" font-size="8.4" textLength="59.40" lengthAdjust="spacingAndGlyphs" fill="#2a2a2a">Early in group 2</text>
<text x="562.00" y="184.00" font-size="8.4" textLength="59.60" lengthAdjust="spacingAndGlyphs" fill="#2a2a2a">Early in group 2</text>
<text x="562.00" y="195.00" font-size="8.4" textLength="56.40" lengthAdjust="spacingAndGlyphs" fill="#2a2a2a">Late in group 1</text>
<text x="436.40" y="54.40" font-size="8" font-style="italic" textLength="35.60" lengthAdjust="spacingAndGlyphs" fill="#2a2a2a">Microbe 1</text>
<rect x="659.30" y="21.20" width="195.40" height="179.00" fill="#fff" stroke="#cdcdcd" stroke-width="1.3" />
<text x="754.30" y="35.30" font-size="12" text-anchor="middle" font-style="italic" textLength="47.50" lengthAdjust="spacingAndGlyphs" fill="#222">Example</text>
<text x="757.50" y="53.50" font-size="10.4" text-anchor="middle" font-style="italic" textLength="93.70" lengthAdjust="spacingAndGlyphs" fill="#222">Microbe 1; p &lt; 0.001</text>
<text x="759.20" y="66.60" font-size="10.6" text-anchor="middle" textLength="95.60" lengthAdjust="spacingAndGlyphs" fill="#222">Coordinates: (-8,46)</text>
<text x="758.00" y="91.00" font-size="10.6" text-anchor="middle" textLength="112.00" lengthAdjust="spacingAndGlyphs" fill="#222">Early colonizer in group 1</text>
<text x="757.70" y="103.20" font-size="10.6" text-anchor="middle" textLength="97.80" lengthAdjust="spacingAndGlyphs" fill="#222">change in prevalence</text>
<text x="758.00" y="115.50" font-size="10.6" text-anchor="middle" textLength="101.10" lengthAdjust="spacingAndGlyphs" fill="#222">(1 Year - 3 Months) =</text>
<text x="758.60" y="127.70" font-size="10.6" text-anchor="middle" textLength="74.10" lengthAdjust="spacingAndGlyphs" fill="#222">decrease of 8%</text>
<text x="757.70" y="152.00" font-size="10.6" text-anchor="middle" textLength="109.80" lengthAdjust="spacingAndGlyphs" fill="#222">Late colonizer in group 2</text>
<text x="757.70" y="164.40" font-size="10.6" text-anchor="middle" textLength="97.80" lengthAdjust="spacingAndGlyphs" fill="#222">change in prevalence</text>
<text x="758.00" y="176.60" font-size="10.6" text-anchor="middle" textLength="101.10" lengthAdjust="spacingAndGlyphs" fill="#222">(1 Year - 3 Months) =</text>
<text x="758.70" y="188.80" font-size="10.6" text-anchor="middle" textLength="76.50" lengthAdjust="spacingAndGlyphs" fill="#222">increase of 46%</text>
<text x="369.40" y="271.80" font-size="14" font-weight="bold" fill="#000">C</text>
<text x="444.40" y="272.80" font-size="14.8" font-weight="bold" textLength="165.60" lengthAdjust="spacingAndGlyphs" fill="#111">PreTCO System - Nasal</text>
<rect x="427.60" y="282.20" width="199.50" height="180.50" fill="#fff" stroke="#8a8a8a" stroke-width="1" />
<line x1="424.30" y1="442.70" x2="427.60" y2="442.70" stroke="#3a3a3a" stroke-width="1.1" />
<text x="422.10" y="447.00" font-size="12" text-anchor="end" fill="#222">-20</text>
<line x1="449.36" y1="462.70" x2="449.36" y2="466.00" stroke="#3a3a3a" stroke-width="1.1" />
<text x="449.36" y="476.00" font-size="12" text-anchor="middle" fill="#222">-20</text>
<line x1="424.30" y1="402.60" x2="427.60" y2="402.60" stroke="#3a3a3a" stroke-width="1.1" />
<text x="422.10" y="406.90" font-size="12" text-anchor="end" fill="#222">0</text>
<line x1="493.80" y1="462.70" x2="493.80" y2="466.00" stroke="#3a3a3a" stroke-width="1.1" />
<text x="493.80" y="476.00" font-size="12" text-anchor="middle" fill="#222">0</text>
<line x1="424.30" y1="362.50" x2="427.60" y2="362.50" stroke="#3a3a3a" stroke-width="1.1" />
<text x="422.10" y="366.80" font-size="12" text-anchor="end" fill="#222">20</text>
<line x1="538.24" y1="462.70" x2="538.24" y2="466.00" stroke="#3a3a3a" stroke-width="1.1" />
<text x="538.24" y="476.00" font-size="12" text-anchor="middle" fill="#222">20</text>
<line x1="424.30" y1="322.40" x2="427.60" y2="322.40" stroke="#3a3a3a" stroke-width="1.1" />
<text x="422.10" y="326.70" font-size="12" text-anchor="end" fill="#222">40</text>
<line x1="582.68" y1="462.70" x2="582.68" y2="466.00" stroke="#3a3a3a" stroke-width="1.1" />
<text x="582.68" y="476.00" font-size="12" text-anchor="middle" fill="#222">40</text>
<line x1="424.30" y1="282.30" x2="427.60" y2="282.30" stroke="#3a3a3a" stroke-width="1.1" />
<text x="422.10" y="286.60" font-size="12" text-anchor="end" fill="#222">60</text>
<line x1="627.12" y1="462.70" x2="627.12" y2="466.00" stroke="#3a3a3a" stroke-width="1.1" />
<text x="627.12" y="476.00" font-size="12" text-anchor="middle" fill="#222">60</text>
<text x="382.00" y="372.40" font-size="12.5" text-anchor="middle" transform="rotate(-90 382.00 372.40)" fill="#222">Healthy</text>
<text x="395.70" y="372.40" font-size="12.5" text-anchor="middle" textLength="181.30" lengthAdjust="spacingAndGlyphs" transform="rotate(-90 395.70 372.40)" fill="#222">1 Year - 3 Month Prevalence (%)</text>
<text x="527.35" y="491.00" font-size="12.5" text-anchor="middle" fill="#222">Asthma, 3 Years</text>
<text x="527.35" y="505.20" font-size="12.5" text-anchor="middle" textLength="181.30" lengthAdjust="spacingAndGlyphs" fill="#222">1 Year - 3 Month Prevalence (%)</text>
<g clip-path="url(#clipCN)">
<circle cx="478.0" cy="413.0" r="6.5" fill="#7A9E98" fill-opacity="0.85"/>
<circle cx="527.4" cy="331.0" r="6.0" fill="#7A9E98" fill-opacity="0.85"/>
<circle cx="446.6" cy="437.0" r="6.0" fill="#7A9E98" fill-opacity="0.85"/>
<circle cx="505.0" cy="363.0" r="6.0" fill="#7A9E98" fill-opacity="0.85"/>
<circle cx="560.6" cy="321.0" r="6.0" fill="#7A9E98" fill-opacity="0.85"/>
<circle cx="602.4" cy="297.0" r="6.0" fill="#7A9E98" fill-opacity="0.85"/>
<circle cx="472.0" cy="400.0" r="5.4" fill="#7A9E98" fill-opacity="0.85"/>
<circle cx="472.0" cy="416.0" r="5.4" fill="#7A9E98" fill-opacity="0.85"/>
<circle cx="480.0" cy="420.0" r="5.4" fill="#7A9E98" fill-opacity="0.85"/>
<circle cx="497.0" cy="368.0" r="5.4" fill="#7A9E98" fill-opacity="0.85"/>
<circle cx="516.0" cy="350.0" r="5.4" fill="#7A9E98" fill-opacity="0.85"/>
<circle cx="591.4" cy="320.4" r="5.2" fill="#7A9E98" fill-opacity="0.85"/>
<circle cx="485.0" cy="410.5" r="5.0" fill="#7A9E98" fill-opacity="0.85"/>
<circle cx="446.6" cy="441.6" r="4.8" fill="#7A9E98" fill-opacity="0.85"/>
<circle cx="465.6" cy="409.0" r="4.8" fill="#7A9E98" fill-opacity="0.85"/>
<circle cx="560.6" cy="329.4" r="4.8" fill="#7A9E98" fill-opacity="0.85"/>
<circle cx="454.6" cy="417.0" r="4.3" fill="#7A9E98" fill-opacity="0.85"/>
<circle cx="470.0" cy="424.0" r="4.3" fill="#7A9E98" fill-opacity="0.85"/>
<circle cx="478.0" cy="427.0" r="4.3" fill="#7A9E98" fill-opacity="0.85"/>
<circle cx="490.0" cy="410.0" r="4.3" fill="#7A9E98" fill-opacity="0.85"/>
<circle cx="476.0" cy="419.0" r="4.3" fill="#7A9E98" fill-opacity="0.85"/>
<circle cx="463.6" cy="423.0" r="3.6" fill="#D1317C" fill-opacity="0.85"/>
<circle cx="463.6" cy="423.0" r="3.9" fill="#6f8f8c" fill-opacity="0.72"/>
<circle cx="472.0" cy="431.0" r="3.9" fill="#7A9E98" fill-opacity="0.85"/>
<circle cx="494.0" cy="413.6" r="3.9" fill="#7A9E98" fill-opacity="0.85"/>
<circle cx="505.0" cy="412.4" r="3.9" fill="#7A9E98" fill-opacity="0.85"/>
<circle cx="552.0" cy="338.0" r="3.9" fill="#7A9E98" fill-opacity="0.85"/>
<circle cx="544.0" cy="348.6" r="3.9" fill="#7A9E98" fill-opacity="0.85"/>
<circle cx="458.0" cy="431.0" r="3.5" fill="#7A9E98" fill-opacity="0.85"/>
<circle cx="504.0" cy="397.0" r="3.5" fill="#7A9E98" fill-opacity="0.85"/>
<circle cx="510.0" cy="399.0" r="3.5" fill="#7A9E98" fill-opacity="0.85"/>
<circle cx="535.0" cy="349.0" r="3.5" fill="#7A9E98" fill-opacity="0.85"/>
<circle cx="525.0" cy="375.0" r="3.5" fill="#7A9E98" fill-opacity="0.85"/>
<circle cx="505.9" cy="375.8" r="3.5" fill="#7A9E98" fill-opacity="0.85"/>
<circle cx="509.4" cy="390.9" r="3.5" fill="#7A9E98" fill-opacity="0.85"/>
<circle cx="486.0" cy="404.0" r="3.2" fill="#7A9E98" fill-opacity="0.85"/>
<circle cx="487.0" cy="418.0" r="3.2" fill="#7A9E98" fill-opacity="0.85"/>
<circle cx="466.0" cy="428.0" r="3.2" fill="#7A9E98" fill-opacity="0.85"/>
<circle cx="484.0" cy="415.0" r="3.2" fill="#7A9E98" fill-opacity="0.85"/>
<circle cx="500.1" cy="397.8" r="3.2" fill="#7A9E98" fill-opacity="0.85"/>
<circle cx="513.0" cy="368.0" r="3.0" fill="#7A9E98" fill-opacity="0.85"/>
<circle cx="516.0" cy="362.0" r="3.0" fill="#7A9E98" fill-opacity="0.85"/>
<circle cx="480.0" cy="427.0" r="3.0" fill="#7A9E98" fill-opacity="0.85"/>
<circle cx="580.0" cy="327.0" r="5.4" fill="#A6D5F7" fill-opacity="0.85"/>
<circle cx="541.0" cy="328.0" r="4.8" fill="#A6D5F7" fill-opacity="0.85"/>
<circle cx="552.4" cy="318.0" r="4.3" fill="#A6D5F7" fill-opacity="0.85"/>
<circle cx="538.0" cy="335.0" r="3.9" fill="#A6D5F7" fill-opacity="0.85"/>
<circle cx="486.0" cy="383.6" r="3.5" fill="#A6D5F7" fill-opacity="0.85"/>
<circle cx="520.0" cy="359.0" r="3.5" fill="#A6D5F7" fill-opacity="0.85"/>
<circle cx="549.4" cy="335.0" r="3.5" fill="#A6D5F7" fill-opacity="0.85"/>
<circle cx="529.0" cy="354.0" r="3.5" fill="#A6D5F7" fill-opacity="0.85"/>
<circle cx="532.0" cy="359.0" r="3.5" fill="#A6D5F7" fill-opacity="0.85"/>
<circle cx="515.1" cy="373.5" r="2.8" fill="#A6D5F7" fill-opacity="0.85"/>
<circle cx="482.0" cy="403.0" r="2.6" fill="#A6D5F7" fill-opacity="0.85"/>
<circle cx="493.0" cy="384.4" r="2.6" fill="#A6D5F7" fill-opacity="0.85"/>
<circle cx="544.0" cy="358.0" r="2.6" fill="#A6D5F7" fill-opacity="0.85"/>
<circle cx="491.0" cy="397.6" r="6.9" fill="#2E2585" fill-opacity="0.93"/>
<circle cx="449.4" cy="406.4" r="6.5" fill="#2E2585" fill-opacity="0.93"/>
<circle cx="535.6" cy="399.0" r="5.8" fill="#2E2585" fill-opacity="0.93"/>
<circle cx="588.4" cy="310.0" r="5.2" fill="#2E2585" fill-opacity="0.93"/>
<circle cx="521.2" cy="339.6" r="5.0" fill="#2E2585" fill-opacity="0.93"/>
<circle cx="549.6" cy="322.4" r="4.8" fill="#2E2585" fill-opacity="0.93"/>
<circle cx="530.0" cy="383.6" r="4.8" fill="#2E2585" fill-opacity="0.93"/>
<circle cx="497.0" cy="388.0" r="4.3" fill="#2E2585" fill-opacity="0.93"/>
<circle cx="527.0" cy="346.0" r="4.3" fill="#2E2585" fill-opacity="0.93"/>
<circle cx="496.8" cy="361.6" r="3.9" fill="#2E2585" fill-opacity="0.93"/>
<circle cx="481.0" cy="402.0" r="3.9" fill="#2E2585" fill-opacity="0.93"/>
<circle cx="508.0" cy="380.0" r="3.9" fill="#2E2585" fill-opacity="0.93"/>
<circle cx="527.0" cy="392.6" r="3.9" fill="#2E2585" fill-opacity="0.93"/>
<circle cx="511.0" cy="372.0" r="3.5" fill="#2E2585" fill-opacity="0.93"/>
<circle cx="522.6" cy="355.0" r="3.5" fill="#2E2585" fill-opacity="0.93"/>
<circle cx="535.6" cy="364.0" r="3.5" fill="#2E2585" fill-opacity="0.93"/>
<circle cx="518.0" cy="375.0" r="3.5" fill="#2E2585" fill-opacity="0.93"/>
<circle cx="497.0" cy="384.0" r="3.5" fill="#2E2585" fill-opacity="0.93"/>
<circle cx="502.0" cy="390.0" r="3.2" fill="#2E2585" fill-opacity="0.93"/>
<circle cx="488.0" cy="392.0" r="3.2" fill="#2E2585" fill-opacity="0.93"/>
<circle cx="494.0" cy="392.0" r="3.2" fill="#2E2585" fill-opacity="0.93"/>
<circle cx="479.3" cy="400.7" r="3.2" fill="#2E2585" fill-opacity="0.93"/>
<circle cx="499.0" cy="402.0" r="3.0" fill="#2E2585" fill-opacity="0.93"/>
<circle cx="504.0" cy="403.0" r="3.0" fill="#2E2585" fill-opacity="0.93"/>
<circle cx="516.4" cy="393.6" r="3.0" fill="#2E2585" fill-opacity="0.93"/>
<circle cx="538.4" cy="353.0" r="3.0" fill="#2E2585" fill-opacity="0.93"/>
<circle cx="516.0" cy="386.0" r="3.0" fill="#2E2585" fill-opacity="0.93"/>
<circle cx="484.0" cy="399.0" r="2.8" fill="#2E2585" fill-opacity="0.93"/>
<circle cx="509.0" cy="390.0" r="2.8" fill="#2E2585" fill-opacity="0.93"/>
<circle cx="517.0" cy="376.0" r="2.6" fill="#2E2585" fill-opacity="0.93"/>
<circle cx="541.0" cy="356.0" r="2.6" fill="#2E2585" fill-opacity="0.93"/>
<circle cx="462.4" cy="399.6" r="6.0" fill="#D1317C" fill-opacity="0.9"/>
<circle cx="466.0" cy="441.4" r="5.2" fill="#D1317C" fill-opacity="0.9"/>
<circle cx="460.8" cy="388.0" r="5.1" fill="#D1317C" fill-opacity="0.9"/>
<circle cx="533.0" cy="343.0" r="3.9" fill="#D1317C" fill-opacity="0.9"/>
<circle cx="483.0" cy="395.0" r="3.0" fill="#D1317C" fill-opacity="0.9"/>
<circle cx="500.0" cy="382.0" r="3.0" fill="#D1317C" fill-opacity="0.9"/>
<circle cx="504.0" cy="388.0" r="3.0" fill="#D1317C" fill-opacity="0.9"/>
<circle cx="532.6" cy="373.0" r="3.0" fill="#D1317C" fill-opacity="0.9"/>
<circle cx="511.0" cy="385.0" r="2.8" fill="#D1317C" fill-opacity="0.9"/>
<circle cx="474.4" cy="406.0" r="2.6" fill="#D1317C" fill-opacity="0.9"/>
<circle cx="497.0" cy="405.0" r="2.6" fill="#D1317C" fill-opacity="0.9"/>
<circle cx="516.0" cy="400.0" r="2.6" fill="#D1317C" fill-opacity="0.9"/>
<circle cx="472.0" cy="421.6" r="2.2" fill="#D1317C" fill-opacity="0.9"/>
<circle cx="536.0" cy="331.0" r="4.3" fill="#DAA42A" fill-opacity="0.9"/>
<circle cx="477.0" cy="397.0" r="3.9" fill="#DAA42A" fill-opacity="0.9"/>
<circle cx="555.0" cy="347.4" r="3.9" fill="#DAA42A" fill-opacity="0.9"/>
<circle cx="527.0" cy="377.0" r="3.9" fill="#DAA42A" fill-opacity="0.9"/>
<circle cx="505.0" cy="370.0" r="3.5" fill="#DAA42A" fill-opacity="0.9"/>
<circle cx="519.0" cy="351.0" r="3.5" fill="#DAA42A" fill-opacity="0.9"/>
<circle cx="549.0" cy="317.6" r="3.0" fill="#DAA42A" fill-opacity="0.9"/>
<circle cx="523.0" cy="372.0" r="3.0" fill="#DAA42A" fill-opacity="0.9"/>
<circle cx="512.8" cy="368.9" r="3.0" fill="#DAA42A" fill-opacity="0.9"/>
<circle cx="514.0" cy="380.0" r="2.6" fill="#DAA42A" fill-opacity="0.9"/>
<circle cx="532.4" cy="364.0" r="2.6" fill="#DAA42A" fill-opacity="0.9"/>
<circle cx="492.4" cy="388.0" r="2.2" fill="#DAA42A" fill-opacity="0.9"/>
<circle cx="527.6" cy="330.9" r="6.6" fill="none" stroke="#C9404A" stroke-width="1.4"/>
<circle cx="521.4" cy="339.5" r="5.5" fill="none" stroke="#C9404A" stroke-width="1.4"/>
<circle cx="497.0" cy="361.5" r="4.4" fill="none" stroke="#C9404A" stroke-width="1.4"/>
<circle cx="461.0" cy="387.9" r="5.6" fill="none" stroke="#C9404A" stroke-width="1.4"/>
</g>
<line x1="427.60" y1="462.70" x2="627.10" y2="282.20" stroke="#D2232A" stroke-width="1.3" />
<text x="468.60" y="329.00" font-size="8.6" font-style="italic" textLength="52.00" lengthAdjust="spacingAndGlyphs" fill="#333">S. salivarius 5</text>
<text x="454.00" y="340.40" font-size="8.6" font-style="italic" textLength="60.40" lengthAdjust="spacingAndGlyphs" fill="#333">Haemophilus 40</text>
<text x="453.60" y="360.60" font-size="8.6" font-style="italic" textLength="37.40" lengthAdjust="spacingAndGlyphs" fill="#333">Pantoea 4</text>
<text x="429.00" y="382.00" font-size="8.6" font-style="italic" textLength="30.00" lengthAdjust="spacingAndGlyphs" fill="#333">Rothia 1</text>
<g clip-path="url(#clipCNl)"><text x="547.60" y="376.70" font-size="11" font-weight="bold" textLength="39.80" lengthAdjust="spacingAndGlyphs" fill="#111">Phylum</text>
<circle cx="553.9" cy="389.5" r="2.2" fill="#2E2585"/>
<text x="565.80" y="392.70" font-size="9" fill="#222">Proteobacteria</text>
<circle cx="553.9" cy="402.9" r="2.2" fill="#7A9E98"/>
<text x="565.80" y="406.05" font-size="9" fill="#222">Firmicutes</text>
<circle cx="553.9" cy="416.2" r="2.2" fill="#D1317C"/>
<text x="565.80" y="419.40" font-size="9" fill="#222">Actinobacteria</text>
<circle cx="553.9" cy="429.6" r="2.2" fill="#A6D5F7"/>
<text x="565.80" y="432.75" font-size="9" fill="#222">Bacteroidetes</text>
<circle cx="553.9" cy="442.9" r="2.2" fill="#DAA42A"/>
<text x="565.80" y="446.10" font-size="9" fill="#222">Other</text></g>
<text x="624.70" y="459.00" font-size="12" text-anchor="end" textLength="44.20" lengthAdjust="spacingAndGlyphs" fill="#111">p&lt;0.001</text>
<text x="681.60" y="275.00" font-size="14.8" font-weight="bold" textLength="152.10" lengthAdjust="spacingAndGlyphs" fill="#111">PreTCO System - Gut</text>
<rect x="657.70" y="284.50" width="200.00" height="180.50" fill="#fff" stroke="#8a8a8a" stroke-width="1" />
<line x1="654.40" y1="444.70" x2="657.70" y2="444.70" stroke="#3a3a3a" stroke-width="1.1" />
<text x="652.20" y="449.00" font-size="12" text-anchor="end" fill="#222">-20</text>
<line x1="680.00" y1="465.00" x2="680.00" y2="468.30" stroke="#3a3a3a" stroke-width="1.1" />
<text x="680.00" y="478.80" font-size="12" text-anchor="middle" fill="#222">-20</text>
<line x1="654.40" y1="404.60" x2="657.70" y2="404.60" stroke="#3a3a3a" stroke-width="1.1" />
<text x="652.20" y="408.90" font-size="12" text-anchor="end" fill="#222">0</text>
<line x1="724.40" y1="465.00" x2="724.40" y2="468.30" stroke="#3a3a3a" stroke-width="1.1" />
<text x="724.40" y="478.80" font-size="12" text-anchor="middle" fill="#222">0</text>
<line x1="654.40" y1="364.50" x2="657.70" y2="364.50" stroke="#3a3a3a" stroke-width="1.1" />
<text x="652.20" y="368.80" font-size="12" text-anchor="end" fill="#222">20</text>
<line x1="768.80" y1="465.00" x2="768.80" y2="468.30" stroke="#3a3a3a" stroke-width="1.1" />
<text x="768.80" y="478.80" font-size="12" text-anchor="middle" fill="#222">20</text>
<line x1="654.40" y1="324.40" x2="657.70" y2="324.40" stroke="#3a3a3a" stroke-width="1.1" />
<text x="652.20" y="328.70" font-size="12" text-anchor="end" fill="#222">40</text>
<line x1="813.20" y1="465.00" x2="813.20" y2="468.30" stroke="#3a3a3a" stroke-width="1.1" />
<text x="813.20" y="478.80" font-size="12" text-anchor="middle" fill="#222">40</text>
<line x1="654.40" y1="284.30" x2="657.70" y2="284.30" stroke="#3a3a3a" stroke-width="1.1" />
<text x="652.20" y="288.60" font-size="12" text-anchor="end" fill="#222">60</text>
<line x1="857.60" y1="465.00" x2="857.60" y2="468.30" stroke="#3a3a3a" stroke-width="1.1" />
<text x="857.60" y="478.80" font-size="12" text-anchor="middle" fill="#222">60</text>
<rect x="628.50" y="436.70" width="9.30" height="14.00" fill="#fff" />
<text x="757.70" y="493.50" font-size="12.5" text-anchor="middle" fill="#222">Asthma, 3 Years</text>
<text x="757.70" y="507.40" font-size="12.5" text-anchor="middle" textLength="181.30" lengthAdjust="spacingAndGlyphs" fill="#222">1 Year - 3 Month Prevalence (%)</text>
<g clip-path="url(#clipCG)">
<circle cx="744.0" cy="391.0" r="7.6" fill="#2E2585" fill-opacity="0.93"/>
<circle cx="748.0" cy="372.0" r="6.5" fill="#2E2585" fill-opacity="0.93"/>
<circle cx="708.4" cy="411.0" r="5.6" fill="#2E2585" fill-opacity="0.93"/>
<circle cx="736.0" cy="413.4" r="4.8" fill="#2E2585" fill-opacity="0.93"/>
<circle cx="712.0" cy="371.6" r="3.9" fill="#2E2585" fill-opacity="0.93"/>
<circle cx="744.0" cy="406.4" r="3.5" fill="#2E2585" fill-opacity="0.93"/>
<circle cx="752.0" cy="355.6" r="6.0" fill="#D1317C" fill-opacity="0.9"/>
<circle cx="724.0" cy="376.0" r="5.4" fill="#D1317C" fill-opacity="0.9"/>
<circle cx="672.4" cy="410.6" r="5.4" fill="#D1317C" fill-opacity="0.9"/>
<circle cx="708.0" cy="390.0" r="4.3" fill="#D1317C" fill-opacity="0.9"/>
<circle cx="739.6" cy="400.0" r="3.9" fill="#D1317C" fill-opacity="0.9"/>
<circle cx="720.0" cy="420.4" r="3.0" fill="#D1317C" fill-opacity="0.9"/>
<circle cx="704.4" cy="427.6" r="2.6" fill="#D1317C" fill-opacity="0.9"/>
<circle cx="723.6" cy="416.4" r="2.6" fill="#D1317C" fill-opacity="0.9"/>
<circle cx="724.0" cy="386.0" r="2.2" fill="#D1317C" fill-opacity="0.9"/>
<circle cx="692.4" cy="416.0" r="1.7" fill="#D1317C" fill-opacity="0.9"/>
<circle cx="759.6" cy="338.0" r="7.6" fill="#7A9E98" fill-opacity="0.78"/>
<circle cx="772.0" cy="338.0" r="6.9" fill="#7A9E98" fill-opacity="0.78"/>
<circle cx="784.0" cy="344.0" r="6.5" fill="#7A9E98" fill-opacity="0.78"/>
<circle cx="736.6" cy="340.4" r="6.0" fill="#7A9E98" fill-opacity="0.78"/>
<circle cx="756.0" cy="343.0" r="6.0" fill="#7A9E98" fill-opacity="0.78"/>
<circle cx="668.6" cy="439.6" r="6.0" fill="#7A9E98" fill-opacity="0.78"/>
<circle cx="756.0" cy="348.0" r="5.4" fill="#7A9E98" fill-opacity="0.78"/>
<circle cx="777.0" cy="342.0" r="5.4" fill="#7A9E98" fill-opacity="0.78"/>
<circle cx="734.0" cy="388.0" r="5.4" fill="#7A9E98" fill-opacity="0.78"/>
<circle cx="672.6" cy="414.4" r="5.4" fill="#7A9E98" fill-opacity="0.78"/>
<circle cx="720.0" cy="350.6" r="4.8" fill="#7A9E98" fill-opacity="0.78"/>
<circle cx="780.0" cy="348.0" r="4.8" fill="#7A9E98" fill-opacity="0.78"/>
<circle cx="772.4" cy="357.0" r="4.8" fill="#7A9E98" fill-opacity="0.78"/>
<circle cx="744.0" cy="360.0" r="4.8" fill="#7A9E98" fill-opacity="0.78"/>
<circle cx="742.0" cy="370.0" r="4.8" fill="#7A9E98" fill-opacity="0.78"/>
<circle cx="734.0" cy="375.0" r="4.8" fill="#7A9E98" fill-opacity="0.78"/>
<circle cx="739.0" cy="378.0" r="4.8" fill="#7A9E98" fill-opacity="0.78"/>
<circle cx="760.0" cy="377.0" r="4.8" fill="#7A9E98" fill-opacity="0.78"/>
<circle cx="704.0" cy="387.0" r="4.8" fill="#7A9E98" fill-opacity="0.78"/>
<circle cx="716.0" cy="410.0" r="4.8" fill="#7A9E98" fill-opacity="0.78"/>
<circle cx="729.0" cy="370.0" r="4.3" fill="#7A9E98" fill-opacity="0.78"/>
<circle cx="761.0" cy="382.0" r="4.3" fill="#7A9E98" fill-opacity="0.78"/>
<circle cx="738.0" cy="384.0" r="4.3" fill="#7A9E98" fill-opacity="0.78"/>
<circle cx="684.4" cy="426.0" r="4.3" fill="#7A9E98" fill-opacity="0.78"/>
<circle cx="696.4" cy="435.0" r="4.3" fill="#7A9E98" fill-opacity="0.78"/>
<circle cx="696.4" cy="452.0" r="4.3" fill="#7A9E98" fill-opacity="0.78"/>
<circle cx="728.0" cy="380.0" r="4.3" fill="#7A9E98" fill-opacity="0.78"/>
<circle cx="736.0" cy="381.0" r="4.3" fill="#7A9E98" fill-opacity="0.78"/>
<circle cx="725.0" cy="354.0" r="3.9" fill="#7A9E98" fill-opacity="0.78"/>
<circle cx="732.0" cy="364.6" r="3.9" fill="#7A9E98" fill-opacity="0.78"/>
<circle cx="727.4" cy="358.0" r="3.9" fill="#7A9E98" fill-opacity="0.78"/>
<circle cx="752.0" cy="368.0" r="3.9" fill="#7A9E98" fill-opacity="0.78"/>
<circle cx="732.0" cy="401.0" r="3.9" fill="#7A9E98" fill-opacity="0.78"/>
<circle cx="724.0" cy="403.6" r="3.9" fill="#7A9E98" fill-opacity="0.78"/>
<circle cx="741.0" cy="374.0" r="3.9" fill="#7A9E98" fill-opacity="0.78"/>
<circle cx="730.0" cy="392.0" r="3.9" fill="#7A9E98" fill-opacity="0.78"/>
<circle cx="737.0" cy="394.0" r="3.9" fill="#7A9E98" fill-opacity="0.78"/>
<circle cx="720.4" cy="361.0" r="3.5" fill="#7A9E98" fill-opacity="0.78"/>
<circle cx="716.0" cy="378.0" r="3.5" fill="#7A9E98" fill-opacity="0.78"/>
<circle cx="752.0" cy="381.0" r="3.5" fill="#7A9E98" fill-opacity="0.78"/>
<circle cx="728.0" cy="398.0" r="3.5" fill="#7A9E98" fill-opacity="0.78"/>
<circle cx="728.0" cy="419.0" r="3.5" fill="#7A9E98" fill-opacity="0.78"/>
<circle cx="764.0" cy="379.0" r="3.0" fill="#7A9E98" fill-opacity="0.78"/>
<circle cx="756.0" cy="388.0" r="3.0" fill="#7A9E98" fill-opacity="0.78"/>
<circle cx="729.0" cy="404.0" r="3.0" fill="#7A9E98" fill-opacity="0.78"/>
<circle cx="695.6" cy="393.0" r="6.0" fill="#A6D5F7" fill-opacity="0.85"/>
<circle cx="717.0" cy="386.0" r="5.4" fill="#A6D5F7" fill-opacity="0.85"/>
<circle cx="730.0" cy="385.0" r="5.4" fill="#A6D5F7" fill-opacity="0.85"/>
<circle cx="697.0" cy="399.0" r="5.4" fill="#A6D5F7" fill-opacity="0.85"/>
<circle cx="707.0" cy="397.0" r="5.4" fill="#A6D5F7" fill-opacity="0.85"/>
<circle cx="724.0" cy="390.0" r="4.8" fill="#A6D5F7" fill-opacity="0.85"/>
<circle cx="721.0" cy="387.0" r="3.0" fill="#DAA42A" fill-opacity="0.9"/>
<circle cx="712.0" cy="397.0" r="3.0" fill="#DAA42A" fill-opacity="0.9"/>
<circle cx="736.8" cy="340.3" r="6.6" fill="none" stroke="#C9404A" stroke-width="1.4"/>
<circle cx="720.2" cy="350.5" r="5.3" fill="none" stroke="#C9404A" stroke-width="1.4"/>
<circle cx="725.2" cy="353.9" r="4.4" fill="none" stroke="#C9404A" stroke-width="1.4"/>
<circle cx="720.6" cy="360.9" r="4.0" fill="none" stroke="#C9404A" stroke-width="1.4"/>
</g>
<line x1="657.70" y1="465.00" x2="857.70" y2="284.50" stroke="#D9605F" stroke-width="0.9" />
<text x="680.00" y="335.00" font-size="8.6" font-style="italic" textLength="50.60" lengthAdjust="spacingAndGlyphs" fill="#333">Flavonifracter</text>
<text x="669.00" y="348.40" font-size="8.6" font-style="italic" textLength="44.00" lengthAdjust="spacingAndGlyphs" fill="#333">Tyzzerella 3</text>
<text x="730.60" y="354.40" font-size="8.6" font-style="italic" textLength="75.00" lengthAdjust="spacingAndGlyphs" fill="#333">Faecalibacterium 13</text>
<text x="658.00" y="369.00" font-size="8.6" font-style="italic" textLength="68.00" lengthAdjust="spacingAndGlyphs" fill="#333">Fusicatenibacter 3</text>
<text x="787.30" y="376.60" font-size="11" font-weight="bold" textLength="58.70" lengthAdjust="spacingAndGlyphs" fill="#111">Prevalence</text>
<circle cx="794.6" cy="389.8" r="3.3" fill="#3e3a39" stroke="#2a2726" stroke-width="0.6"/>
<text x="807.20" y="393.10" font-size="9" fill="#222">20</text>
<circle cx="794.6" cy="403.2" r="4.4" fill="#3e3a39" stroke="#2a2726" stroke-width="0.6"/>
<text x="807.20" y="406.50" font-size="9" fill="#222">40</text>
<circle cx="794.6" cy="416.6" r="5.4" fill="#3e3a39" stroke="#2a2726" stroke-width="0.6"/>
<text x="807.20" y="419.90" font-size="9" fill="#222">60</text>
<circle cx="794.6" cy="431.2" r="6.5" fill="#3e3a39" stroke="#2a2726" stroke-width="0.6"/>
<text x="807.20" y="434.50" font-size="9" fill="#222">80</text>
<text x="853.80" y="461.50" font-size="12" text-anchor="end" textLength="44.20" lengthAdjust="spacingAndGlyphs" fill="#111">p&lt;0.001</text>
<text x="369.40" y="546.80" font-size="14" font-weight="bold" fill="#000">D</text>
<text x="444.40" y="547.60" font-size="14.8" font-weight="bold" textLength="165.60" lengthAdjust="spacingAndGlyphs" fill="#111">PreTCO System - Nasal</text>
<rect x="427.60" y="557.60" width="199.50" height="180.60" fill="#fff" stroke="#8a8a8a" stroke-width="1" />
<line x1="424.30" y1="718.40" x2="427.60" y2="718.40" stroke="#3a3a3a" stroke-width="1.1" />
<text x="422.10" y="722.70" font-size="12" text-anchor="end" fill="#222">-20</text>
<line x1="449.36" y1="738.20" x2="449.36" y2="741.50" stroke="#3a3a3a" stroke-width="1.1" />
<text x="449.36" y="752.20" font-size="12" text-anchor="middle" fill="#222">-20</text>
<line x1="424.30" y1="678.40" x2="427.60" y2="678.40" stroke="#3a3a3a" stroke-width="1.1" />
<text x="422.10" y="682.70" font-size="12" text-anchor="end" fill="#222">0</text>
<line x1="493.80" y1="738.20" x2="493.80" y2="741.50" stroke="#3a3a3a" stroke-width="1.1" />
<text x="493.80" y="752.20" font-size="12" text-anchor="middle" fill="#222">0</text>
<line x1="424.30" y1="638.40" x2="427.60" y2="638.40" stroke="#3a3a3a" stroke-width="1.1" />
<text x="422.10" y="642.70" font-size="12" text-anchor="end" fill="#222">20</text>
<line x1="538.24" y1="738.20" x2="538.24" y2="741.50" stroke="#3a3a3a" stroke-width="1.1" />
<text x="538.24" y="752.20" font-size="12" text-anchor="middle" fill="#222">20</text>
<line x1="424.30" y1="598.40" x2="427.60" y2="598.40" stroke="#3a3a3a" stroke-width="1.1" />
<text x="422.10" y="602.70" font-size="12" text-anchor="end" fill="#222">40</text>
<line x1="582.68" y1="738.20" x2="582.68" y2="741.50" stroke="#3a3a3a" stroke-width="1.1" />
<text x="582.68" y="752.20" font-size="12" text-anchor="middle" fill="#222">40</text>
<line x1="424.30" y1="558.40" x2="427.60" y2="558.40" stroke="#3a3a3a" stroke-width="1.1" />
<text x="422.10" y="562.70" font-size="12" text-anchor="end" fill="#222">60</text>
<line x1="627.12" y1="738.20" x2="627.12" y2="741.50" stroke="#3a3a3a" stroke-width="1.1" />
<text x="627.12" y="752.20" font-size="12" text-anchor="middle" fill="#222">60</text>
<text x="382.00" y="648.00" font-size="12.5" text-anchor="middle" transform="rotate(-90 382.00 648.00)" fill="#222">Exclusive BM</text>
<text x="395.70" y="648.00" font-size="12.5" text-anchor="middle" textLength="181.30" lengthAdjust="spacingAndGlyphs" transform="rotate(-90 395.70 648.00)" fill="#222">1 Year - 3 Month Prevalence (%)</text>
<text x="527.35" y="766.80" font-size="12.5" text-anchor="middle" fill="#222">No BM</text>
<text x="527.35" y="780.60" font-size="12.5" text-anchor="middle" textLength="181.30" lengthAdjust="spacingAndGlyphs" fill="#222">1 Year - 3 Month Prevalence (%)</text>
<g clip-path="url(#clipDN)">
<circle cx="486.0" cy="693.0" r="6.5" fill="#7A9E98" fill-opacity="0.85"/>
<circle cx="467.0" cy="665.0" r="6.0" fill="#7A9E98" fill-opacity="0.85"/>
<circle cx="459.0" cy="669.0" r="6.0" fill="#7A9E98" fill-opacity="0.85"/>
<circle cx="460.0" cy="696.0" r="6.0" fill="#7A9E98" fill-opacity="0.85"/>
<circle cx="485.0" cy="633.6" r="5.4" fill="#7A9E98" fill-opacity="0.85"/>
<circle cx="488.0" cy="657.0" r="5.4" fill="#7A9E98" fill-opacity="0.85"/>
<circle cx="468.0" cy="688.0" r="5.4" fill="#7A9E98" fill-opacity="0.85"/>
<circle cx="448.0" cy="719.0" r="5.4" fill="#7A9E98" fill-opacity="0.85"/>
<circle cx="544.4" cy="588.0" r="5.4" fill="#7A9E98" fill-opacity="0.85"/>
<circle cx="481.0" cy="585.0" r="4.8" fill="#7A9E98" fill-opacity="0.85"/>
<circle cx="513.0" cy="581.6" r="4.8" fill="#7A9E98" fill-opacity="0.85"/>
<circle cx="546.6" cy="559.0" r="4.8" fill="#7A9E98" fill-opacity="0.85"/>
<circle cx="511.0" cy="624.0" r="4.8" fill="#7A9E98" fill-opacity="0.85"/>
<circle cx="489.0" cy="638.0" r="4.8" fill="#7A9E98" fill-opacity="0.85"/>
<circle cx="455.0" cy="677.0" r="4.8" fill="#7A9E98" fill-opacity="0.85"/>
<circle cx="470.0" cy="683.0" r="4.8" fill="#7A9E98" fill-opacity="0.85"/>
<circle cx="475.0" cy="693.0" r="4.8" fill="#7A9E98" fill-opacity="0.85"/>
<circle cx="459.0" cy="704.0" r="4.8" fill="#7A9E98" fill-opacity="0.85"/>
<circle cx="438.0" cy="718.0" r="4.4" fill="#D1317C" fill-opacity="0.85"/>
<circle cx="438.0" cy="718.0" r="4.8" fill="#6f8f8c" fill-opacity="0.72"/>
<circle cx="481.0" cy="687.0" r="4.3" fill="#7A9E98" fill-opacity="0.85"/>
<circle cx="533.0" cy="668.0" r="4.3" fill="#7A9E98" fill-opacity="0.85"/>
<circle cx="506.0" cy="651.0" r="3.9" fill="#7A9E98" fill-opacity="0.85"/>
<circle cx="445.6" cy="679.0" r="3.9" fill="#7A9E98" fill-opacity="0.85"/>
<circle cx="442.0" cy="683.0" r="3.9" fill="#7A9E98" fill-opacity="0.85"/>
<circle cx="476.0" cy="685.0" r="3.9" fill="#7A9E98" fill-opacity="0.85"/>
<circle cx="471.0" cy="703.0" r="3.9" fill="#7A9E98" fill-opacity="0.85"/>
<circle cx="500.0" cy="686.0" r="3.9" fill="#7A9E98" fill-opacity="0.85"/>
<circle cx="503.0" cy="675.0" r="3.9" fill="#7A9E98" fill-opacity="0.85"/>
<circle cx="533.0" cy="626.0" r="3.9" fill="#7A9E98" fill-opacity="0.85"/>
<circle cx="482.4" cy="642.0" r="3.5" fill="#7A9E98" fill-opacity="0.85"/>
<circle cx="514.0" cy="649.0" r="3.5" fill="#7A9E98" fill-opacity="0.85"/>
<circle cx="508.0" cy="663.0" r="3.5" fill="#7A9E98" fill-opacity="0.85"/>
<circle cx="545.6" cy="596.0" r="3.5" fill="#7A9E98" fill-opacity="0.85"/>
<circle cx="543.6" cy="614.0" r="3.5" fill="#7A9E98" fill-opacity="0.85"/>
<circle cx="549.0" cy="629.0" r="3.5" fill="#7A9E98" fill-opacity="0.85"/>
<circle cx="530.0" cy="639.4" r="3.5" fill="#7A9E98" fill-opacity="0.85"/>
<circle cx="496.0" cy="643.0" r="3.0" fill="#7A9E98" fill-opacity="0.85"/>
<circle cx="484.0" cy="669.0" r="3.0" fill="#7A9E98" fill-opacity="0.85"/>
<circle cx="511.0" cy="670.0" r="2.8" fill="#7A9E98" fill-opacity="0.85"/>
<circle cx="477.0" cy="672.0" r="2.8" fill="#7A9E98" fill-opacity="0.85"/>
<circle cx="520.3" cy="594.4" r="4.8" fill="#A6D5F7" fill-opacity="0.85"/>
<circle cx="539.4" cy="592.0" r="4.8" fill="#A6D5F7" fill-opacity="0.85"/>
<circle cx="497.6" cy="595.0" r="4.3" fill="#A6D5F7" fill-opacity="0.85"/>
<circle cx="540.6" cy="605.0" r="4.3" fill="#A6D5F7" fill-opacity="0.85"/>
<circle cx="556.0" cy="613.0" r="4.3" fill="#A6D5F7" fill-opacity="0.85"/>
<circle cx="514.0" cy="623.4" r="3.9" fill="#A6D5F7" fill-opacity="0.85"/>
<circle cx="492.0" cy="656.0" r="3.9" fill="#A6D5F7" fill-opacity="0.85"/>
<circle cx="538.0" cy="621.0" r="3.9" fill="#A6D5F7" fill-opacity="0.85"/>
<circle cx="484.0" cy="681.0" r="3.0" fill="#A6D5F7" fill-opacity="0.85"/>
<circle cx="528.0" cy="635.0" r="3.0" fill="#A6D5F7" fill-opacity="0.85"/>
<circle cx="538.0" cy="637.0" r="3.0" fill="#A6D5F7" fill-opacity="0.85"/>
<circle cx="532.4" cy="656.0" r="2.2" fill="#A6D5F7" fill-opacity="0.85"/>
<circle cx="497.0" cy="667.0" r="6.5" fill="#2E2585" fill-opacity="0.93"/>
<circle cx="494.0" cy="651.0" r="5.4" fill="#2E2585" fill-opacity="0.93"/>
<circle cx="505.0" cy="684.0" r="5.4" fill="#2E2585" fill-opacity="0.93"/>
<circle cx="555.6" cy="618.0" r="5.4" fill="#2E2585" fill-opacity="0.93"/>
<circle cx="490.0" cy="673.0" r="4.8" fill="#2E2585" fill-opacity="0.93"/>
<circle cx="549.0" cy="598.6" r="4.8" fill="#2E2585" fill-opacity="0.93"/>
<circle cx="588.0" cy="584.6" r="4.8" fill="#2E2585" fill-opacity="0.93"/>
<circle cx="544.0" cy="628.0" r="4.8" fill="#2E2585" fill-opacity="0.93"/>
<circle cx="498.0" cy="661.0" r="4.3" fill="#2E2585" fill-opacity="0.93"/>
<circle cx="513.6" cy="632.6" r="3.5" fill="#2E2585" fill-opacity="0.93"/>
<circle cx="522.0" cy="637.0" r="3.5" fill="#2E2585" fill-opacity="0.93"/>
<circle cx="500.0" cy="655.0" r="3.5" fill="#2E2585" fill-opacity="0.93"/>
<circle cx="512.0" cy="652.0" r="3.5" fill="#2E2585" fill-opacity="0.93"/>
<circle cx="503.0" cy="663.0" r="3.5" fill="#2E2585" fill-opacity="0.93"/>
<circle cx="514.0" cy="672.0" r="3.5" fill="#2E2585" fill-opacity="0.93"/>
<circle cx="534.0" cy="634.6" r="3.5" fill="#2E2585" fill-opacity="0.93"/>
<circle cx="493.0" cy="662.0" r="3.5" fill="#2E2585" fill-opacity="0.93"/>
<circle cx="495.0" cy="677.0" r="3.5" fill="#2E2585" fill-opacity="0.93"/>
<circle cx="489.0" cy="668.0" r="3.2" fill="#2E2585" fill-opacity="0.93"/>
<circle cx="500.0" cy="680.0" r="3.2" fill="#2E2585" fill-opacity="0.93"/>
<circle cx="508.0" cy="647.0" r="3.0" fill="#2E2585" fill-opacity="0.93"/>
<circle cx="519.0" cy="650.0" r="3.0" fill="#2E2585" fill-opacity="0.93"/>
<circle cx="481.0" cy="677.0" r="3.0" fill="#2E2585" fill-opacity="0.93"/>
<circle cx="486.0" cy="674.0" r="3.0" fill="#2E2585" fill-opacity="0.93"/>
<circle cx="554.4" cy="631.6" r="3.0" fill="#2E2585" fill-opacity="0.93"/>
<circle cx="500.0" cy="658.0" r="3.0" fill="#2E2585" fill-opacity="0.93"/>
<circle cx="509.0" cy="657.0" r="2.8" fill="#2E2585" fill-opacity="0.93"/>
<circle cx="517.0" cy="661.0" r="2.8" fill="#2E2585" fill-opacity="0.93"/>
<circle cx="513.0" cy="666.0" r="2.6" fill="#2E2585" fill-opacity="0.93"/>
<circle cx="527.0" cy="657.0" r="2.6" fill="#2E2585" fill-opacity="0.93"/>
<circle cx="441.0" cy="690.0" r="5.4" fill="#D1317C" fill-opacity="0.9"/>
<circle cx="494.0" cy="682.0" r="5.4" fill="#D1317C" fill-opacity="0.9"/>
<circle cx="501.0" cy="682.0" r="4.8" fill="#D1317C" fill-opacity="0.9"/>
<circle cx="514.0" cy="674.0" r="4.8" fill="#D1317C" fill-opacity="0.9"/>
<circle cx="543.6" cy="617.0" r="4.3" fill="#D1317C" fill-opacity="0.9"/>
<circle cx="469.0" cy="692.0" r="3.9" fill="#D1317C" fill-opacity="0.9"/>
<circle cx="505.6" cy="657.0" r="3.0" fill="#D1317C" fill-opacity="0.9"/>
<circle cx="458.0" cy="689.0" r="3.0" fill="#D1317C" fill-opacity="0.9"/>
<circle cx="492.0" cy="678.0" r="2.8" fill="#D1317C" fill-opacity="0.9"/>
<circle cx="534.0" cy="650.0" r="2.6" fill="#D1317C" fill-opacity="0.9"/>
<circle cx="464.0" cy="701.0" r="2.2" fill="#D1317C" fill-opacity="0.9"/>
<circle cx="535.0" cy="604.6" r="5.2" fill="#DAA42A" fill-opacity="0.9"/>
<circle cx="521.0" cy="657.0" r="4.8" fill="#DAA42A" fill-opacity="0.9"/>
<circle cx="552.6" cy="581.6" r="4.3" fill="#DAA42A" fill-opacity="0.9"/>
<circle cx="546.0" cy="624.0" r="3.9" fill="#DAA42A" fill-opacity="0.9"/>
<circle cx="497.0" cy="640.6" r="3.5" fill="#DAA42A" fill-opacity="0.9"/>
<circle cx="499.0" cy="674.0" r="3.5" fill="#DAA42A" fill-opacity="0.9"/>
<circle cx="528.0" cy="648.0" r="3.5" fill="#DAA42A" fill-opacity="0.9"/>
<circle cx="521.0" cy="632.0" r="3.0" fill="#DAA42A" fill-opacity="0.9"/>
<circle cx="514.0" cy="648.0" r="3.0" fill="#DAA42A" fill-opacity="0.9"/>
<circle cx="528.0" cy="627.4" r="3.0" fill="#DAA42A" fill-opacity="0.9"/>
<circle cx="537.6" cy="643.4" r="3.0" fill="#DAA42A" fill-opacity="0.9"/>
<circle cx="517.6" cy="647.0" r="2.6" fill="#DAA42A" fill-opacity="0.9"/>
<circle cx="481.2" cy="584.9" r="5.3" fill="none" stroke="#C9404A" stroke-width="1.4"/>
<circle cx="513.2" cy="581.5" r="5.3" fill="none" stroke="#C9404A" stroke-width="1.4"/>
<circle cx="546.8" cy="558.9" r="5.3" fill="none" stroke="#C9404A" stroke-width="1.4"/>
<circle cx="497.8" cy="594.9" r="4.9" fill="none" stroke="#C9404A" stroke-width="1.4"/>
</g>
<line x1="427.60" y1="738.20" x2="627.10" y2="557.60" stroke="#D2232A" stroke-width="1.3" />
<text x="429.00" y="578.00" font-size="8.6" font-style="italic" textLength="50.60" lengthAdjust="spacingAndGlyphs" fill="#333">S. salivarius 5</text>
<text x="443.40" y="598.60" font-size="8.6" font-style="italic" textLength="47.20" lengthAdjust="spacingAndGlyphs" fill="#333">Prevotella 42</text>
<text x="507.60" y="574.00" font-size="8.6" font-style="italic" textLength="55.40" lengthAdjust="spacingAndGlyphs" fill="#333">Granulicatella 4</text>
<text x="556.00" y="563.00" font-size="8.6" font-style="italic" textLength="49.60" lengthAdjust="spacingAndGlyphs" fill="#333">Granulicatella</text>
<g clip-path="url(#clipDNl)"><text x="547.60" y="653.10" font-size="11" font-weight="bold" textLength="39.80" lengthAdjust="spacingAndGlyphs" fill="#111">Phylum</text>
<circle cx="553.9" cy="665.9" r="2.2" fill="#2E2585"/>
<text x="565.80" y="669.10" font-size="9" fill="#222">Proteobacteria</text>
<circle cx="553.9" cy="679.2" r="2.2" fill="#7A9E98"/>
<text x="565.80" y="682.45" font-size="9" fill="#222">Firmicutes</text>
<circle cx="553.9" cy="692.6" r="2.2" fill="#D1317C"/>
<text x="565.80" y="695.80" font-size="9" fill="#222">Actinobacteria</text>
<circle cx="553.9" cy="705.9" r="2.2" fill="#A6D5F7"/>
<text x="565.80" y="709.15" font-size="9" fill="#222">Bacteroidetes</text>
<circle cx="553.9" cy="719.3" r="2.2" fill="#DAA42A"/>
<text x="565.80" y="722.50" font-size="9" fill="#222">Other</text></g>
<text x="624.70" y="734.00" font-size="12" text-anchor="end" textLength="44.20" lengthAdjust="spacingAndGlyphs" fill="#111">p&lt;0.001</text>
<text x="681.60" y="550.00" font-size="14.8" font-weight="bold" textLength="152.10" lengthAdjust="spacingAndGlyphs" fill="#111">PreTCO System - Gut</text>
<rect x="657.70" y="559.70" width="200.00" height="180.50" fill="#fff" stroke="#8a8a8a" stroke-width="1" />
<line x1="654.40" y1="720.10" x2="657.70" y2="720.10" stroke="#3a3a3a" stroke-width="1.1" />
<text x="652.20" y="724.40" font-size="12" text-anchor="end" fill="#222">-20</text>
<line x1="680.00" y1="740.20" x2="680.00" y2="743.50" stroke="#3a3a3a" stroke-width="1.1" />
<text x="680.00" y="753.80" font-size="12" text-anchor="middle" fill="#222">-20</text>
<line x1="654.40" y1="680.00" x2="657.70" y2="680.00" stroke="#3a3a3a" stroke-width="1.1" />
<text x="652.20" y="684.30" font-size="12" text-anchor="end" fill="#222">0</text>
<line x1="724.40" y1="740.20" x2="724.40" y2="743.50" stroke="#3a3a3a" stroke-width="1.1" />
<text x="724.40" y="753.80" font-size="12" text-anchor="middle" fill="#222">0</text>
<line x1="654.40" y1="639.90" x2="657.70" y2="639.90" stroke="#3a3a3a" stroke-width="1.1" />
<text x="652.20" y="644.20" font-size="12" text-anchor="end" fill="#222">20</text>
<line x1="768.80" y1="740.20" x2="768.80" y2="743.50" stroke="#3a3a3a" stroke-width="1.1" />
<text x="768.80" y="753.80" font-size="12" text-anchor="middle" fill="#222">20</text>
<line x1="654.40" y1="599.80" x2="657.70" y2="599.80" stroke="#3a3a3a" stroke-width="1.1" />
<text x="652.20" y="604.10" font-size="12" text-anchor="end" fill="#222">40</text>
<line x1="813.20" y1="740.20" x2="813.20" y2="743.50" stroke="#3a3a3a" stroke-width="1.1" />
<text x="813.20" y="753.80" font-size="12" text-anchor="middle" fill="#222">40</text>
<line x1="654.40" y1="559.70" x2="657.70" y2="559.70" stroke="#3a3a3a" stroke-width="1.1" />
<text x="652.20" y="564.00" font-size="12" text-anchor="end" fill="#222">60</text>
<line x1="857.60" y1="740.20" x2="857.60" y2="743.50" stroke="#3a3a3a" stroke-width="1.1" />
<text x="857.60" y="753.80" font-size="12" text-anchor="middle" fill="#222">60</text>
<rect x="628.50" y="712.10" width="9.30" height="14.00" fill="#fff" />
<text x="757.70" y="768.00" font-size="12.5" text-anchor="middle" fill="#222">No BM</text>
<text x="757.70" y="781.80" font-size="12.5" text-anchor="middle" textLength="181.30" lengthAdjust="spacingAndGlyphs" fill="#222">1 Year - 3 Month Prevalence (%)</text>
<g clip-path="url(#clipDG)">
<circle cx="723.6" cy="655.0" r="6.9" fill="#2E2585" fill-opacity="0.93"/>
<circle cx="743.6" cy="640.0" r="6.0" fill="#2E2585" fill-opacity="0.93"/>
<circle cx="710.0" cy="694.6" r="5.4" fill="#2E2585" fill-opacity="0.93"/>
<circle cx="733.0" cy="690.6" r="4.3" fill="#2E2585" fill-opacity="0.93"/>
<circle cx="727.4" cy="675.0" r="3.5" fill="#2E2585" fill-opacity="0.93"/>
<circle cx="746.4" cy="622.4" r="6.0" fill="#D1317C" fill-opacity="0.9"/>
<circle cx="713.0" cy="696.0" r="4.8" fill="#D1317C" fill-opacity="0.9"/>
<circle cx="738.0" cy="645.0" r="3.9" fill="#D1317C" fill-opacity="0.9"/>
<circle cx="749.4" cy="653.0" r="3.9" fill="#D1317C" fill-opacity="0.9"/>
<circle cx="728.0" cy="662.0" r="3.2" fill="#D1317C" fill-opacity="0.9"/>
<circle cx="701.6" cy="691.6" r="3.0" fill="#D1317C" fill-opacity="0.9"/>
<circle cx="718.6" cy="710.4" r="2.6" fill="#D1317C" fill-opacity="0.9"/>
<circle cx="769.0" cy="619.0" r="6.5" fill="#7A9E98" fill-opacity="0.78"/>
<circle cx="749.4" cy="598.0" r="6.0" fill="#7A9E98" fill-opacity="0.78"/>
<circle cx="715.0" cy="632.6" r="6.0" fill="#7A9E98" fill-opacity="0.78"/>
<circle cx="762.0" cy="614.0" r="6.0" fill="#7A9E98" fill-opacity="0.78"/>
<circle cx="721.0" cy="643.0" r="6.0" fill="#7A9E98" fill-opacity="0.78"/>
<circle cx="699.0" cy="687.0" r="6.0" fill="#7A9E98" fill-opacity="0.78"/>
<circle cx="679.0" cy="674.0" r="5.6" fill="#7A9E98" fill-opacity="0.78"/>
<circle cx="740.0" cy="610.6" r="5.4" fill="#7A9E98" fill-opacity="0.78"/>
<circle cx="758.0" cy="611.0" r="5.4" fill="#7A9E98" fill-opacity="0.78"/>
<circle cx="755.0" cy="634.0" r="5.4" fill="#7A9E98" fill-opacity="0.78"/>
<circle cx="699.0" cy="662.6" r="5.4" fill="#7A9E98" fill-opacity="0.78"/>
<circle cx="742.0" cy="658.0" r="5.4" fill="#7A9E98" fill-opacity="0.78"/>
<circle cx="665.0" cy="713.0" r="5.4" fill="#7A9E98" fill-opacity="0.78"/>
<circle cx="783.0" cy="617.4" r="5.2" fill="#7A9E98" fill-opacity="0.78"/>
<circle cx="767.0" cy="615.0" r="4.8" fill="#7A9E98" fill-opacity="0.78"/>
<circle cx="785.6" cy="630.6" r="4.8" fill="#7A9E98" fill-opacity="0.78"/>
<circle cx="741.0" cy="618.0" r="4.8" fill="#7A9E98" fill-opacity="0.78"/>
<circle cx="738.6" cy="629.6" r="4.8" fill="#7A9E98" fill-opacity="0.78"/>
<circle cx="743.6" cy="650.0" r="4.8" fill="#7A9E98" fill-opacity="0.78"/>
<circle cx="733.0" cy="650.0" r="4.8" fill="#7A9E98" fill-opacity="0.78"/>
<circle cx="735.0" cy="661.0" r="4.8" fill="#7A9E98" fill-opacity="0.78"/>
<circle cx="745.0" cy="611.4" r="4.3" fill="#7A9E98" fill-opacity="0.78"/>
<circle cx="718.0" cy="646.0" r="4.3" fill="#7A9E98" fill-opacity="0.78"/>
<circle cx="730.0" cy="673.0" r="4.3" fill="#7A9E98" fill-opacity="0.78"/>
<circle cx="699.0" cy="680.0" r="4.3" fill="#7A9E98" fill-opacity="0.78"/>
<circle cx="761.0" cy="634.6" r="3.9" fill="#7A9E98" fill-opacity="0.78"/>
<circle cx="732.4" cy="639.4" r="3.9" fill="#7A9E98" fill-opacity="0.78"/>
<circle cx="769.4" cy="642.6" r="3.9" fill="#7A9E98" fill-opacity="0.78"/>
<circle cx="729.4" cy="685.0" r="3.9" fill="#7A9E98" fill-opacity="0.78"/>
<circle cx="721.4" cy="695.6" r="3.9" fill="#7A9E98" fill-opacity="0.78"/>
<circle cx="727.0" cy="698.6" r="3.9" fill="#7A9E98" fill-opacity="0.78"/>
<circle cx="671.0" cy="709.4" r="3.9" fill="#7A9E98" fill-opacity="0.78"/>
<circle cx="744.0" cy="663.0" r="3.9" fill="#7A9E98" fill-opacity="0.78"/>
<circle cx="760.6" cy="649.4" r="3.5" fill="#7A9E98" fill-opacity="0.78"/>
<circle cx="737.0" cy="673.0" r="3.5" fill="#7A9E98" fill-opacity="0.78"/>
<circle cx="712.6" cy="687.0" r="3.5" fill="#7A9E98" fill-opacity="0.78"/>
<circle cx="687.6" cy="737.0" r="3.5" fill="#7A9E98" fill-opacity="0.78"/>
<circle cx="710.0" cy="655.4" r="3.0" fill="#7A9E98" fill-opacity="0.78"/>
<circle cx="769.4" cy="657.0" r="3.0" fill="#7A9E98" fill-opacity="0.78"/>
<circle cx="766.4" cy="660.0" r="3.0" fill="#7A9E98" fill-opacity="0.78"/>
<circle cx="723.0" cy="669.0" r="3.0" fill="#7A9E98" fill-opacity="0.78"/>
<circle cx="718.4" cy="666.6" r="2.6" fill="#7A9E98" fill-opacity="0.78"/>
<circle cx="752.6" cy="674.0" r="5.4" fill="#A6D5F7" fill-opacity="0.85"/>
<circle cx="734.0" cy="663.0" r="4.8" fill="#A6D5F7" fill-opacity="0.85"/>
<circle cx="729.0" cy="667.0" r="4.8" fill="#A6D5F7" fill-opacity="0.85"/>
<circle cx="748.0" cy="672.0" r="4.3" fill="#A6D5F7" fill-opacity="0.85"/>
<circle cx="740.0" cy="669.0" r="3.9" fill="#A6D5F7" fill-opacity="0.85"/>
<circle cx="755.4" cy="666.6" r="3.9" fill="#A6D5F7" fill-opacity="0.85"/>
<circle cx="727.4" cy="657.4" r="3.0" fill="#DAA42A" fill-opacity="0.9"/>
<circle cx="732.6" cy="678.0" r="3.0" fill="#DAA42A" fill-opacity="0.9"/>
<circle cx="749.6" cy="597.9" r="6.6" fill="none" stroke="#C9404A" stroke-width="1.4"/>
<circle cx="715.2" cy="632.5" r="6.6" fill="none" stroke="#C9404A" stroke-width="1.4"/>
<circle cx="740.2" cy="610.5" r="6.0" fill="none" stroke="#C9404A" stroke-width="1.4"/>
<circle cx="745.2" cy="611.3" r="4.9" fill="none" stroke="#C9404A" stroke-width="1.4"/>
</g>
<line x1="657.70" y1="740.20" x2="857.70" y2="559.70" stroke="#D2232A" stroke-width="1.2" />
<text x="687.40" y="591.00" font-size="8.6" font-style="italic" textLength="55.60" lengthAdjust="spacingAndGlyphs" fill="#333">Anaerostipes 8</text>
<text x="685.40" y="605.60" font-size="8.6" font-style="italic" textLength="50.00" lengthAdjust="spacingAndGlyphs" fill="#333">Flavonifracter</text>
<text x="688.00" y="616.00" font-size="8.6" font-style="italic" textLength="45.60" lengthAdjust="spacingAndGlyphs" fill="#333">C. innocuum</text>
<text x="664.00" y="630.40" font-size="8.6" font-style="italic" textLength="43.60" lengthAdjust="spacingAndGlyphs" fill="#333">S. salivarius</text>
<text x="787.30" y="656.40" font-size="11" font-weight="bold" textLength="58.70" lengthAdjust="spacingAndGlyphs" fill="#111">Prevalence</text>
<circle cx="794.6" cy="669.6" r="3.3" fill="#3e3a39" stroke="#2a2726" stroke-width="0.6"/>
<text x="807.20" y="672.90" font-size="9" fill="#222">20</text>
<circle cx="794.6" cy="683.0" r="4.4" fill="#3e3a39" stroke="#2a2726" stroke-width="0.6"/>
<text x="807.20" y="686.30" font-size="9" fill="#222">40</text>
<circle cx="794.6" cy="696.4" r="5.4" fill="#3e3a39" stroke="#2a2726" stroke-width="0.6"/>
<text x="807.20" y="699.70" font-size="9" fill="#222">60</text>
<circle cx="794.6" cy="711.0" r="6.5" fill="#3e3a39" stroke="#2a2726" stroke-width="0.6"/>
<text x="807.20" y="714.30" font-size="9" fill="#222">80</text>
<text x="854.60" y="736.60" font-size="12" text-anchor="end" textLength="44.20" lengthAdjust="spacingAndGlyphs" fill="#111">p&lt;0.001</text>
<text x="1.00" y="803.80" font-size="14" font-weight="bold" fill="#000">E</text>
<text x="229.70" y="812.20" font-size="14.8" font-weight="bold" textLength="40.30" lengthAdjust="spacingAndGlyphs" fill="#111">Nasal</text>
<text x="650.60" y="812.30" font-size="14.8" font-weight="bold" textLength="26.10" lengthAdjust="spacingAndGlyphs" fill="#111">Gut</text>
<rect x="62.00" y="818.10" width="332.99" height="35.30" fill="#8FC2EA" />
<rect x="394.69" y="818.10" width="46.51" height="35.30" fill="#EC6B7B" />
<rect x="62.45" y="818.55" width="378.00" height="34.80" fill="none" stroke="#1a1a1a" stroke-width="0.95" stroke-opacity="0.62"/>
<rect x="62.00" y="853.40" width="157.40" height="35.80" fill="#8FC2EA" />
<rect x="219.10" y="853.40" width="166.65" height="35.80" fill="#ABA9A8" />
<rect x="385.45" y="853.40" width="9.54" height="35.80" fill="#EC6B7B" />
<rect x="394.69" y="853.40" width="28.02" height="35.80" fill="#ABA9A8" />
<rect x="422.42" y="853.40" width="18.78" height="35.80" fill="#EC6B7B" />
<rect x="62.45" y="853.85" width="378.00" height="35.30" fill="none" stroke="#1a1a1a" stroke-width="0.95" stroke-opacity="0.62"/>
<rect x="62.00" y="889.20" width="83.47" height="35.70" fill="#8FC2EA" />
<rect x="145.17" y="889.20" width="74.23" height="35.70" fill="#ABA9A8" />
<rect x="219.10" y="889.20" width="101.96" height="35.70" fill="#8FC2EA" />
<rect x="320.76" y="889.20" width="64.99" height="35.70" fill="#ABA9A8" />
<rect x="385.45" y="889.20" width="9.54" height="35.70" fill="#8FC2EA" />
<rect x="394.69" y="889.20" width="18.78" height="35.70" fill="#ABA9A8" />
<rect x="413.18" y="889.20" width="28.02" height="35.70" fill="#EC6B7B" />
<rect x="62.45" y="889.65" width="378.00" height="35.20" fill="none" stroke="#1a1a1a" stroke-width="0.95" stroke-opacity="0.62"/>
<text x="70.02" y="931.00" font-size="10" text-anchor="end" transform="rotate(-90 70.02 931.00)" fill="#222"><tspan font-style="italic">Alloprevotella</tspan> 14</text>
<text x="79.26" y="931.00" font-size="10" text-anchor="end" transform="rotate(-90 79.26 931.00)" fill="#222"><tspan font-style="italic">Fusobacterium</tspan> 27</text>
<text x="88.50" y="931.00" font-size="10" text-anchor="end" transform="rotate(-90 88.50 931.00)" fill="#222"><tspan font-style="italic">Lactobacillus delbrueckii</tspan> 1</text>
<text x="97.75" y="931.00" font-size="10" text-anchor="end" transform="rotate(-90 97.75 931.00)" fill="#222"><tspan font-style="italic">Neisseria polysaccharea</tspan></text>
<text x="106.99" y="931.00" font-size="10" text-anchor="end" transform="rotate(-90 106.99 931.00)" fill="#222"><tspan font-style="italic">Pantoea</tspan> 4</text>
<text x="116.23" y="931.00" font-size="10" text-anchor="end" transform="rotate(-90 116.23 931.00)" fill="#222"><tspan font-style="italic">Porphyromonas</tspan> 19</text>
<text x="125.47" y="931.00" font-size="10" text-anchor="end" transform="rotate(-90 125.47 931.00)" fill="#222"><tspan font-style="italic">Streptobacillus</tspan> 1</text>
<text x="134.71" y="931.00" font-size="10" text-anchor="end" transform="rotate(-90 134.71 931.00)" fill="#222"><tspan font-style="italic">Streptococcus</tspan> 118</text>
<text x="143.95" y="931.00" font-size="10" text-anchor="end" transform="rotate(-90 143.95 931.00)" fill="#222"><tspan font-style="italic">Veillonella</tspan> 53</text>
<text x="153.19" y="931.00" font-size="10" text-anchor="end" transform="rotate(-90 153.19 931.00)" fill="#222"><tspan font-style="italic">Alloprevotella</tspan> 25</text>
<text x="162.44" y="931.00" font-size="10" text-anchor="end" transform="rotate(-90 162.44 931.00)" fill="#222"><tspan font-style="italic">Campylobacter</tspan> 3</text>
<text x="171.68" y="931.00" font-size="10" text-anchor="end" transform="rotate(-90 171.68 931.00)" fill="#222"><tspan font-style="italic">Lactococcus lactis</tspan></text>
<text x="180.92" y="931.00" font-size="10" text-anchor="end" transform="rotate(-90 180.92 931.00)" fill="#222"><tspan font-style="italic">Leptotrichia</tspan> 12</text>
<text x="190.16" y="931.00" font-size="10" text-anchor="end" transform="rotate(-90 190.16 931.00)" fill="#222"><tspan font-style="italic">Prevotella</tspan> 42</text>
<text x="199.40" y="931.00" font-size="10" text-anchor="end" transform="rotate(-90 199.40 931.00)" fill="#222"><tspan font-style="italic">Rothia</tspan> 12</text>
<text x="208.64" y="931.00" font-size="10" text-anchor="end" transform="rotate(-90 208.64 931.00)" fill="#222"><tspan font-style="italic">Saccharimonadales</tspan> 2</text>
<text x="217.88" y="931.00" font-size="10" text-anchor="end" transform="rotate(-90 217.88 931.00)" fill="#222"><tspan font-style="italic">Streptococcus salivarius</tspan> 5</text>
<text x="227.13" y="931.00" font-size="10" text-anchor="end" transform="rotate(-90 227.13 931.00)" fill="#222"><tspan font-style="italic">Clostridia UCG-014</tspan> 31</text>
<text x="236.37" y="931.00" font-size="10" text-anchor="end" transform="rotate(-90 236.37 931.00)" fill="#222"><tspan font-style="italic">Corynebacterium</tspan> 36</text>
<text x="245.61" y="931.00" font-size="10" text-anchor="end" transform="rotate(-90 245.61 931.00)" fill="#222"><tspan font-style="italic">Haemophilus</tspan> 15</text>
<text x="254.85" y="931.00" font-size="10" text-anchor="end" transform="rotate(-90 254.85 931.00)" fill="#222"><tspan font-style="italic">Haemophilus</tspan> 40</text>
<text x="264.09" y="931.00" font-size="10" text-anchor="end" transform="rotate(-90 264.09 931.00)" fill="#222"><tspan font-style="italic">Haemophilus</tspan> 42</text>
<text x="273.33" y="931.00" font-size="10" text-anchor="end" transform="rotate(-90 273.33 931.00)" fill="#222"><tspan font-style="italic">Haemophilus sputorum</tspan></text>
<text x="282.57" y="931.00" font-size="10" text-anchor="end" transform="rotate(-90 282.57 931.00)" fill="#222"><tspan font-style="italic">Neisseria perflava</tspan> 3</text>
<text x="291.82" y="931.00" font-size="10" text-anchor="end" transform="rotate(-90 291.82 931.00)" fill="#222"><tspan font-style="italic">Oribacterium</tspan> 2</text>
<text x="301.06" y="931.00" font-size="10" text-anchor="end" transform="rotate(-90 301.06 931.00)" fill="#222"><tspan font-style="italic">Rothia</tspan> 1</text>
<text x="310.30" y="931.00" font-size="10" text-anchor="end" transform="rotate(-90 310.30 931.00)" fill="#222"><tspan font-style="italic">Streptobacillus</tspan></text>
<text x="319.54" y="931.00" font-size="10" text-anchor="end" transform="rotate(-90 319.54 931.00)" fill="#222"><tspan font-style="italic">Veillonella rogosae</tspan></text>
<text x="328.78" y="931.00" font-size="10" text-anchor="end" transform="rotate(-90 328.78 931.00)" fill="#222"><tspan font-style="italic">Actinomyces</tspan> 32</text>
<text x="338.02" y="931.00" font-size="10" text-anchor="end" transform="rotate(-90 338.02 931.00)" fill="#222"><tspan font-style="italic">Cardiobacterium</tspan> 1</text>
<text x="347.26" y="931.00" font-size="10" text-anchor="end" transform="rotate(-90 347.26 931.00)" fill="#222"><tspan font-style="italic">Corynebacterium</tspan> 42</text>
<text x="356.51" y="931.00" font-size="10" text-anchor="end" transform="rotate(-90 356.51 931.00)" fill="#222"><tspan font-style="italic">Dolosigranulum</tspan></text>
<text x="365.75" y="931.00" font-size="10" text-anchor="end" transform="rotate(-90 365.75 931.00)" fill="#222"><tspan font-style="italic">Haemophilus</tspan> 11</text>
<text x="374.99" y="931.00" font-size="10" text-anchor="end" transform="rotate(-90 374.99 931.00)" fill="#222"><tspan font-style="italic">Haemophilus</tspan> 32</text>
<text x="384.23" y="931.00" font-size="10" text-anchor="end" transform="rotate(-90 384.23 931.00)" fill="#222"><tspan font-style="italic">Prevotella</tspan> 126</text>
<text x="393.47" y="931.00" font-size="10" text-anchor="end" transform="rotate(-90 393.47 931.00)" fill="#222"><tspan font-style="italic">Neisseriaceae</tspan> 4</text>
<text x="402.71" y="931.00" font-size="10" text-anchor="end" transform="rotate(-90 402.71 931.00)" fill="#222"><tspan font-style="italic">Acinetobacter</tspan> 9</text>
<text x="411.95" y="931.00" font-size="10" text-anchor="end" transform="rotate(-90 411.95 931.00)" fill="#222"><tspan font-style="italic">Micrococcus yunnanensis</tspan></text>
<text x="421.20" y="931.00" font-size="10" text-anchor="end" transform="rotate(-90 421.20 931.00)" fill="#222"><tspan font-style="italic">Moraxella lincolnii</tspan> 1</text>
<text x="430.44" y="931.00" font-size="10" text-anchor="end" transform="rotate(-90 430.44 931.00)" fill="#222"><tspan font-style="italic">Haemophilus</tspan> 41</text>
<text x="439.68" y="931.00" font-size="10" text-anchor="end" transform="rotate(-90 439.68 931.00)" fill="#222"><tspan font-style="italic">Streptococcus</tspan> 65</text>
<rect x="459.20" y="818.10" width="383.85" height="35.30" fill="#8FC2EA" />
<rect x="459.65" y="818.55" width="382.65" height="34.80" fill="none" stroke="#1a1a1a" stroke-width="0.95" stroke-opacity="0.62"/>
<rect x="459.20" y="853.40" width="106.84" height="35.80" fill="#8FC2EA" />
<rect x="565.74" y="853.40" width="277.31" height="35.80" fill="#ABA9A8" />
<rect x="459.65" y="853.85" width="382.65" height="35.30" fill="none" stroke="#1a1a1a" stroke-width="0.95" stroke-opacity="0.62"/>
<rect x="459.20" y="889.20" width="53.57" height="35.70" fill="#8FC2EA" />
<rect x="512.47" y="889.20" width="53.57" height="35.70" fill="#ABA9A8" />
<rect x="565.74" y="889.20" width="85.53" height="35.70" fill="#8FC2EA" />
<rect x="650.98" y="889.20" width="192.08" height="35.70" fill="#ABA9A8" />
<rect x="459.65" y="889.65" width="382.65" height="35.20" fill="none" stroke="#1a1a1a" stroke-width="0.95" stroke-opacity="0.62"/>
<text x="468.03" y="931.00" font-size="10" text-anchor="end" transform="rotate(-90 468.03 931.00)" fill="#222"><tspan font-style="italic">Clostridioides difficile</tspan></text>
<text x="478.68" y="931.00" font-size="10" text-anchor="end" transform="rotate(-90 478.68 931.00)" fill="#222"><tspan font-style="italic">Eubacterium eligens</tspan> 1</text>
<text x="489.34" y="931.00" font-size="10" text-anchor="end" transform="rotate(-90 489.34 931.00)" fill="#222"><tspan font-style="italic">Faecalibacterium</tspan> 13</text>
<text x="499.99" y="931.00" font-size="10" text-anchor="end" transform="rotate(-90 499.99 931.00)" fill="#222"><tspan font-style="italic">Monoglobus</tspan></text>
<text x="510.64" y="931.00" font-size="10" text-anchor="end" transform="rotate(-90 510.64 931.00)" fill="#222"><tspan font-style="italic">Tyzzerella</tspan> 3</text>
<text x="521.30" y="931.00" font-size="10" text-anchor="end" transform="rotate(-90 521.30 931.00)" fill="#222"><tspan font-style="italic">Agathobacter</tspan> 6</text>
<text x="531.95" y="931.00" font-size="10" text-anchor="end" transform="rotate(-90 531.95 931.00)" fill="#222"><tspan font-style="italic">Blautia</tspan> 9</text>
<text x="542.61" y="931.00" font-size="10" text-anchor="end" transform="rotate(-90 542.61 931.00)" fill="#222"><tspan font-style="italic">Flavonifractor</tspan></text>
<text x="553.26" y="931.00" font-size="10" text-anchor="end" transform="rotate(-90 553.26 931.00)" fill="#222"><tspan font-style="italic">Ruminococcus gnavus</tspan></text>
<text x="563.91" y="931.00" font-size="10" text-anchor="end" transform="rotate(-90 563.91 931.00)" fill="#222"><tspan font-style="italic">Sellimonas intestinalis</tspan></text>
<text x="574.57" y="931.00" font-size="10" text-anchor="end" transform="rotate(-90 574.57 931.00)" fill="#222"><tspan font-style="italic">Actinomyces</tspan> 3</text>
<text x="585.22" y="931.00" font-size="10" text-anchor="end" transform="rotate(-90 585.22 931.00)" fill="#222"><tspan font-style="italic">Bacteroides</tspan> 6</text>
<text x="595.88" y="931.00" font-size="10" text-anchor="end" transform="rotate(-90 595.88 931.00)" fill="#222"><tspan font-style="italic">Bifidobacterium longum</tspan> 1</text>
<text x="606.53" y="931.00" font-size="10" text-anchor="end" transform="rotate(-90 606.53 931.00)" fill="#222"><tspan font-style="italic">Fusicatenibacter</tspan> 3</text>
<text x="617.19" y="931.00" font-size="10" text-anchor="end" transform="rotate(-90 617.19 931.00)" fill="#222"><tspan font-style="italic">Moryella</tspan></text>
<text x="627.84" y="931.00" font-size="10" text-anchor="end" transform="rotate(-90 627.84 931.00)" fill="#222"><tspan font-style="italic">Parasutterella</tspan> 1</text>
<text x="638.49" y="931.00" font-size="10" text-anchor="end" transform="rotate(-90 638.49 931.00)" fill="#222"><tspan font-style="italic">Ruminococcus</tspan> 6</text>
<text x="649.15" y="931.00" font-size="10" text-anchor="end" transform="rotate(-90 649.15 931.00)" fill="#222"><tspan font-style="italic">Veillonella</tspan> 5</text>
<text x="659.80" y="931.00" font-size="10" text-anchor="end" transform="rotate(-90 659.80 931.00)" fill="#222"><tspan font-style="italic">Anaerostipes</tspan> 13</text>
<text x="670.46" y="931.00" font-size="10" text-anchor="end" transform="rotate(-90 670.46 931.00)" fill="#222"><tspan font-style="italic">Atopobium</tspan></text>
<text x="681.11" y="931.00" font-size="10" text-anchor="end" transform="rotate(-90 681.11 931.00)" fill="#222"><tspan font-style="italic">Bacteroides</tspan> 12</text>
<text x="691.76" y="931.00" font-size="10" text-anchor="end" transform="rotate(-90 691.76 931.00)" fill="#222"><tspan font-style="italic">Bacteroides</tspan> 17</text>
<text x="702.42" y="931.00" font-size="10" text-anchor="end" transform="rotate(-90 702.42 931.00)" fill="#222"><tspan font-style="italic">Bacteroides</tspan> 23</text>
<text x="713.07" y="931.00" font-size="10" text-anchor="end" transform="rotate(-90 713.07 931.00)" fill="#222"><tspan font-style="italic">Bifidobacterium bifidum</tspan></text>
<text x="723.73" y="931.00" font-size="10" text-anchor="end" transform="rotate(-90 723.73 931.00)" fill="#222"><tspan font-style="italic">Bilophila</tspan> 3</text>
<text x="734.38" y="931.00" font-size="10" text-anchor="end" transform="rotate(-90 734.38 931.00)" fill="#222"><tspan font-style="italic">Collinsella</tspan> 3</text>
<text x="745.04" y="931.00" font-size="10" text-anchor="end" transform="rotate(-90 745.04 931.00)" fill="#222"><tspan font-style="italic">Coprobacillus cateniformis</tspan></text>
<text x="755.69" y="931.00" font-size="10" text-anchor="end" transform="rotate(-90 755.69 931.00)" fill="#222"><tspan font-style="italic">Dorea</tspan></text>
<text x="766.34" y="931.00" font-size="10" text-anchor="end" transform="rotate(-90 766.34 931.00)" fill="#222"><tspan font-style="italic">Eubacterium hallii</tspan> 1</text>
<text x="777.00" y="931.00" font-size="10" text-anchor="end" transform="rotate(-90 777.00 931.00)" fill="#222"><tspan font-style="italic">Faecalibacterium</tspan> 18</text>
<text x="787.65" y="931.00" font-size="10" text-anchor="end" transform="rotate(-90 787.65 931.00)" fill="#222"><tspan font-style="italic">Lachnoclostridium</tspan></text>
<text x="798.31" y="931.00" font-size="10" text-anchor="end" transform="rotate(-90 798.31 931.00)" fill="#222"><tspan font-style="italic">Lachnospiraceae</tspan> 25</text>
<text x="808.96" y="931.00" font-size="10" text-anchor="end" transform="rotate(-90 808.96 931.00)" fill="#222"><tspan font-style="italic">Oscillibacter</tspan> 2</text>
<text x="819.61" y="931.00" font-size="10" text-anchor="end" transform="rotate(-90 819.61 931.00)" fill="#222"><tspan font-style="italic">Parabacteroides merdae</tspan></text>
<text x="830.27" y="931.00" font-size="10" text-anchor="end" transform="rotate(-90 830.27 931.00)" fill="#222"><tspan font-style="italic">Ruminococcus</tspan> 4</text>
<text x="840.92" y="931.00" font-size="10" text-anchor="end" transform="rotate(-90 840.92 931.00)" fill="#222"><tspan font-style="italic">UBA1819</tspan> 1819</text>
<text x="56.60" y="829.10" font-size="10" text-anchor="end" fill="#222">No Asthma</text>
<text x="56.60" y="840.10" font-size="10" text-anchor="end" fill="#222">vs. Asthma</text>
<text x="56.60" y="850.70" font-size="10" text-anchor="end" fill="#222">[3 years]</text>
<text x="56.60" y="870.10" font-size="10" text-anchor="end" fill="#222">Exclusive</text>
<text x="56.60" y="881.10" font-size="10" text-anchor="end" fill="#222">vs. No BM</text>
<text x="56.60" y="900.70" font-size="10" text-anchor="end" fill="#222">No Asthma</text>
<text x="56.60" y="911.70" font-size="10" text-anchor="end" fill="#222">vs. Asthma</text>
<text x="56.60" y="922.70" font-size="10" text-anchor="end" fill="#222">[3 &amp; 5 years]</text>
<rect x="449.40" y="818.10" width="5.80" height="35.30" fill="#E3000F" />
<rect x="449.40" y="853.40" width="5.80" height="35.80" fill="#F4A6B8" />
<rect x="449.40" y="889.20" width="5.80" height="35.70" fill="#F08591" />
<rect x="449.40" y="818.10" width="5.80" height="106.80" fill="none" stroke="#a8575c" stroke-width="0.6" />
<rect x="851.10" y="818.10" width="6.30" height="35.30" fill="#E3000F" />
<rect x="851.10" y="853.40" width="6.30" height="35.80" fill="#F9C8D2" />
<rect x="851.10" y="889.20" width="6.30" height="35.70" fill="#F7B9C5" />
<rect x="851.10" y="818.10" width="6.30" height="106.80" fill="none" stroke="#a8575c" stroke-width="0.6" />
<text x="445.10" y="835.00" font-size="7.4" text-anchor="middle" fill="#222">36</text>
<text x="445.10" y="842.00" font-size="7.4" text-anchor="middle" fill="#222">36</text>
<line x1="441.10" y1="836.00" x2="449.10" y2="836.00" stroke="#333" stroke-width="0.6" />
<text x="445.10" y="869.70" font-size="7.4" text-anchor="middle" fill="#222">17</text>
<text x="445.10" y="876.70" font-size="7.4" text-anchor="middle" fill="#222">36</text>
<line x1="441.10" y1="870.70" x2="449.10" y2="870.70" stroke="#333" stroke-width="0.6" />
<text x="445.10" y="904.90" font-size="7.4" text-anchor="middle" fill="#222">21</text>
<text x="445.10" y="911.90" font-size="7.4" text-anchor="middle" fill="#222">36</text>
<line x1="441.10" y1="905.90" x2="449.10" y2="905.90" stroke="#333" stroke-width="0.6" />
<text x="847.10" y="835.00" font-size="7.4" text-anchor="middle" fill="#222">36</text>
<text x="847.10" y="842.00" font-size="7.4" text-anchor="middle" fill="#222">36</text>
<line x1="843.10" y1="836.00" x2="851.10" y2="836.00" stroke="#333" stroke-width="0.6" />
<text x="847.10" y="869.70" font-size="7.4" text-anchor="middle" fill="#222">10</text>
<text x="847.10" y="876.70" font-size="7.4" text-anchor="middle" fill="#222">36</text>
<line x1="843.10" y1="870.70" x2="851.10" y2="870.70" stroke="#333" stroke-width="0.6" />
<text x="847.10" y="904.90" font-size="7.4" text-anchor="middle" fill="#222">13</text>
<text x="847.10" y="911.90" font-size="7.4" text-anchor="middle" fill="#222">36</text>
<line x1="843.10" y1="905.90" x2="851.10" y2="905.90" stroke="#333" stroke-width="0.6" />
<text x="56.60" y="1058.30" font-size="10.7" font-weight="bold" textLength="122.80" lengthAdjust="spacingAndGlyphs" fill="#111">Direction of Association</text>
<rect x="186.50" y="1048.70" width="11.00" height="11.40" fill="#8FC2EA" />
<text x="201.90" y="1058.30" font-size="9.3" textLength="55.30" lengthAdjust="spacingAndGlyphs" fill="#222">p&lt;0.05, Later</text>
<rect x="263.00" y="1048.70" width="11.20" height="11.40" fill="#B5B3B2" />
<text x="279.00" y="1058.30" font-size="9.3" textLength="28.50" lengthAdjust="spacingAndGlyphs" fill="#222">p&gt;0.05</text>
<rect x="314.00" y="1048.70" width="11.00" height="11.40" fill="#EE7B89" />
<text x="329.50" y="1058.30" font-size="9.3" textLength="61.70" lengthAdjust="spacingAndGlyphs" fill="#222">p&lt;0.05, Earlier</text>
</svg>
</body></html>
